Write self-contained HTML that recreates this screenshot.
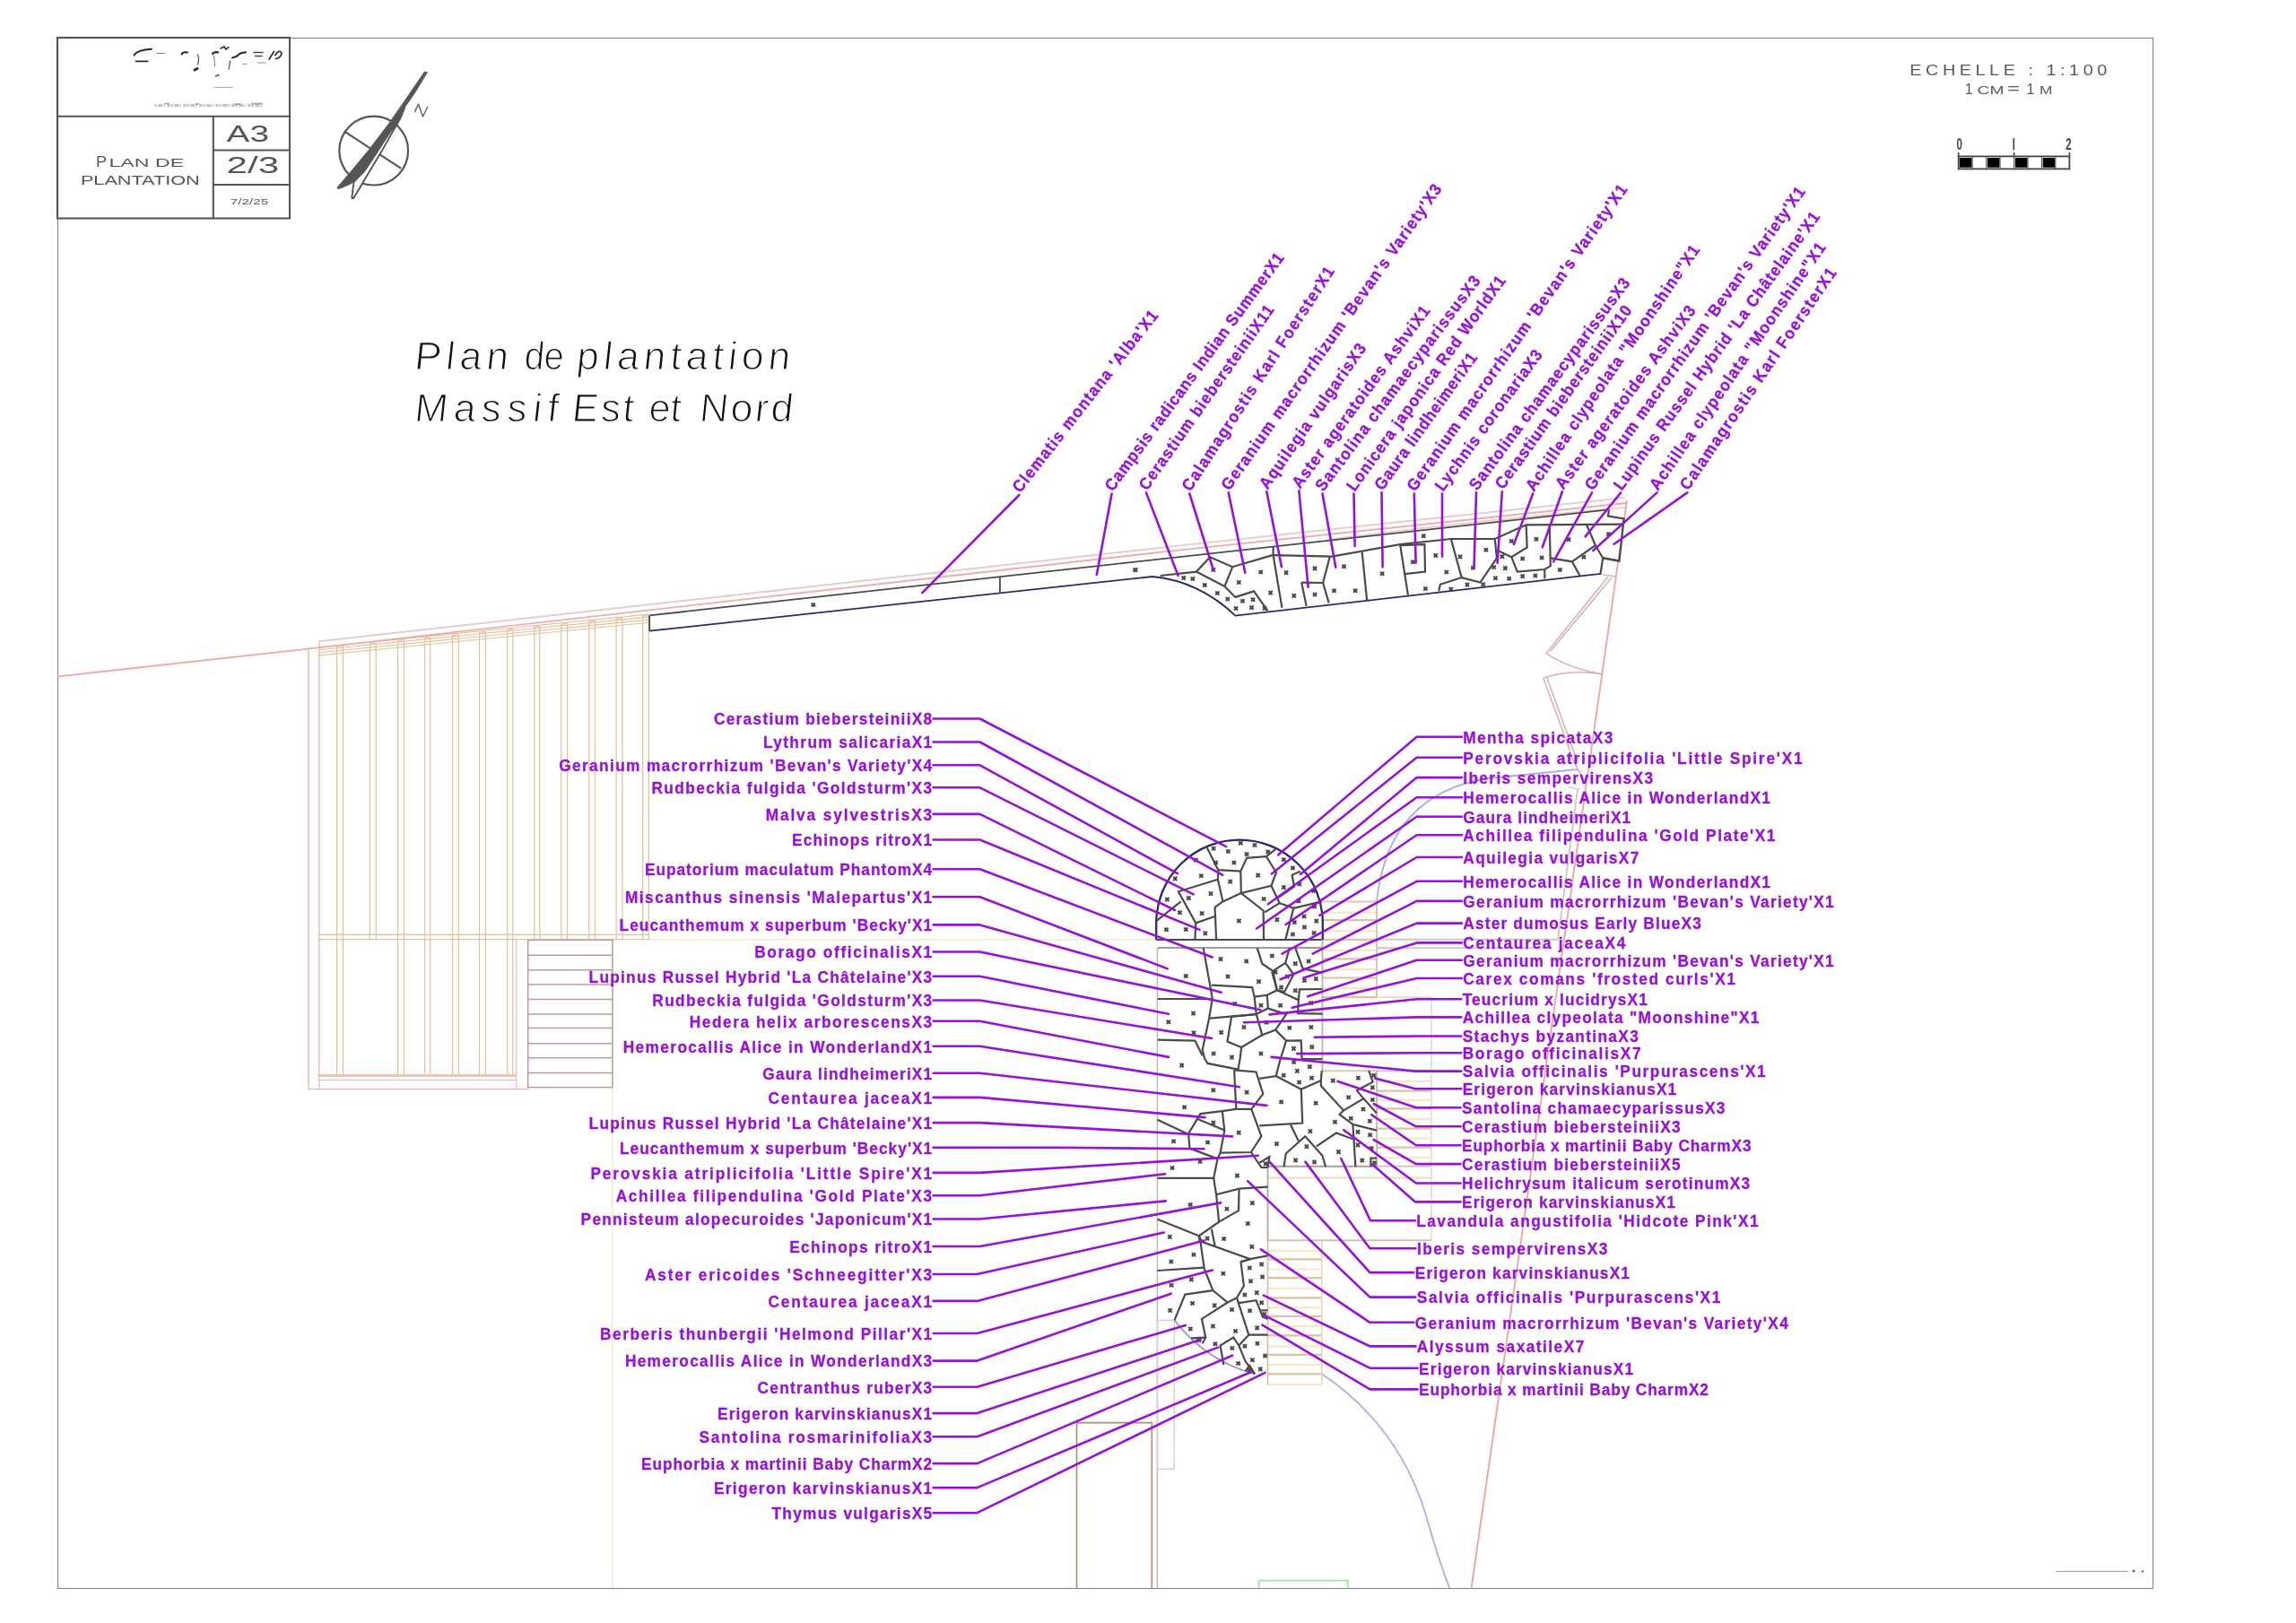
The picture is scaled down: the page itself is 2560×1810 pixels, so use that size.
<!DOCTYPE html>
<html><head><meta charset="utf-8"><title>Plan de plantation</title>
<style>
html,body{margin:0;padding:0;background:#fff;}
body{width:2560px;height:1810px;overflow:hidden;font-family:"Liberation Sans",sans-serif;}
svg{display:block;will-change:transform;opacity:0.9999}
.lb{font-family:"Liberation Sans",sans-serif;font-weight:bold;font-size:18.6px;fill:#9612D5;stroke:#9612D5;stroke-width:0.3px}
.bg{font-family:"Liberation Sans",sans-serif;fill:#555}
.hw{font-family:"Liberation Sans",sans-serif;font-style:italic;fill:#111;stroke:#fff;stroke-width:1.25px;paint-order:fill stroke}
</style></head><body>
<svg width="2560" height="1810" viewBox="0 0 2560 1810">
<rect x="0" y="0" width="2560" height="1810" fill="#fff"/>
<rect x="64.5" y="42.5" width="2336" height="1729" fill="none" stroke="#8a8a8a" stroke-width="1.2"/>
<line x1="682.7" y1="1048.0" x2="682.7" y2="1771.0" stroke="#f3ecd8" stroke-width="2" />
<line x1="724.0" y1="1048.0" x2="1290.0" y2="1048.0" stroke="#f6efdc" stroke-width="2" />
<polyline points="344.0,723.5 344.0,1214.6 588.6,1214.6 588.6,1048.4" fill="none" stroke="#e6b4ae" stroke-width="1.3" />
<polyline points="355.8,715.2 355.8,1214.6" fill="none" stroke="#e2bcb4" stroke-width="1.3" />
<line x1="355.8" y1="721.7" x2="723.3" y2="685.1" stroke="#e2c09c" stroke-width="1.1" />
<line x1="355.8" y1="724.7" x2="723.3" y2="688.1" stroke="#e2c09c" stroke-width="1.1" />
<line x1="355.8" y1="727.7" x2="723.3" y2="691.1" stroke="#e2c09c" stroke-width="1.1" />
<line x1="355.8" y1="730.9" x2="723.3" y2="694.3" stroke="#e2c09c" stroke-width="1.1" />
<line x1="375.6" y1="721.1" x2="375.6" y2="1198.6" stroke="#e2c09c" stroke-width="1.2" />
<line x1="382.4" y1="720.5" x2="382.4" y2="1198.6" stroke="#e2c09c" stroke-width="1.2" />
<line x1="375.6" y1="721.1" x2="382.4" y2="720.5" stroke="#e2c09c" stroke-width="1.2" />
<line x1="412.4" y1="717.5" x2="412.4" y2="1047.6" stroke="#e2c09c" stroke-width="1.2" />
<line x1="419.2" y1="716.8" x2="419.2" y2="1047.6" stroke="#e2c09c" stroke-width="1.2" />
<line x1="412.4" y1="717.5" x2="419.2" y2="716.8" stroke="#e2c09c" stroke-width="1.2" />
<line x1="443.6" y1="714.4" x2="443.6" y2="1198.6" stroke="#e2c09c" stroke-width="1.2" />
<line x1="450.5" y1="713.7" x2="450.5" y2="1198.6" stroke="#e2c09c" stroke-width="1.2" />
<line x1="443.6" y1="714.4" x2="450.5" y2="713.7" stroke="#e2c09c" stroke-width="1.2" />
<line x1="473.7" y1="711.4" x2="473.7" y2="1198.6" stroke="#e2c09c" stroke-width="1.2" />
<line x1="479.7" y1="710.8" x2="479.7" y2="1198.6" stroke="#e2c09c" stroke-width="1.2" />
<line x1="473.7" y1="711.4" x2="479.7" y2="710.8" stroke="#e2c09c" stroke-width="1.2" />
<line x1="504.5" y1="708.3" x2="504.5" y2="1198.6" stroke="#e2c09c" stroke-width="1.2" />
<line x1="511.3" y1="707.6" x2="511.3" y2="1198.6" stroke="#e2c09c" stroke-width="1.2" />
<line x1="504.5" y1="708.3" x2="511.3" y2="707.6" stroke="#e2c09c" stroke-width="1.2" />
<line x1="534.5" y1="705.3" x2="534.5" y2="1198.6" stroke="#e2c09c" stroke-width="1.2" />
<line x1="541.3" y1="704.6" x2="541.3" y2="1198.6" stroke="#e2c09c" stroke-width="1.2" />
<line x1="534.5" y1="705.3" x2="541.3" y2="704.6" stroke="#e2c09c" stroke-width="1.2" />
<line x1="565.8" y1="702.2" x2="565.8" y2="1198.6" stroke="#e2c09c" stroke-width="1.2" />
<line x1="571.8" y1="701.6" x2="571.8" y2="1198.6" stroke="#e2c09c" stroke-width="1.2" />
<line x1="565.8" y1="702.2" x2="571.8" y2="701.6" stroke="#e2c09c" stroke-width="1.2" />
<line x1="595.8" y1="699.2" x2="595.8" y2="1047.6" stroke="#e2c09c" stroke-width="1.2" />
<line x1="601.8" y1="698.6" x2="601.8" y2="1047.6" stroke="#e2c09c" stroke-width="1.2" />
<line x1="595.8" y1="699.2" x2="601.8" y2="698.6" stroke="#e2c09c" stroke-width="1.2" />
<line x1="625.8" y1="696.2" x2="625.8" y2="1047.6" stroke="#e2c09c" stroke-width="1.2" />
<line x1="632.6" y1="695.5" x2="632.6" y2="1047.6" stroke="#e2c09c" stroke-width="1.2" />
<line x1="625.8" y1="696.2" x2="632.6" y2="695.5" stroke="#e2c09c" stroke-width="1.2" />
<line x1="656.7" y1="693.1" x2="656.7" y2="1047.6" stroke="#e2c09c" stroke-width="1.2" />
<line x1="663.5" y1="692.5" x2="663.5" y2="1047.6" stroke="#e2c09c" stroke-width="1.2" />
<line x1="656.7" y1="693.1" x2="663.5" y2="692.5" stroke="#e2c09c" stroke-width="1.2" />
<line x1="687.1" y1="690.1" x2="687.1" y2="1047.6" stroke="#e2c09c" stroke-width="1.2" />
<line x1="693.9" y1="689.4" x2="693.9" y2="1047.6" stroke="#e2c09c" stroke-width="1.2" />
<line x1="687.1" y1="690.1" x2="693.9" y2="689.4" stroke="#e2c09c" stroke-width="1.2" />
<line x1="716.7" y1="687.2" x2="716.7" y2="1047.6" stroke="#e2c09c" stroke-width="1.2" />
<line x1="723.3" y1="686.5" x2="723.3" y2="1047.6" stroke="#e2c09c" stroke-width="1.2" />
<line x1="716.7" y1="687.2" x2="723.3" y2="686.5" stroke="#e2c09c" stroke-width="1.2" />
<line x1="355.8" y1="1042.4" x2="723.3" y2="1042.4" stroke="#e2c09c" stroke-width="1.2" />
<line x1="355.8" y1="1047.6" x2="723.3" y2="1047.6" stroke="#e2c09c" stroke-width="1.2" />
<line x1="355.8" y1="1199.6" x2="575.8" y2="1199.6" stroke="#efc6b0" stroke-width="3" />
<line x1="355.8" y1="1204.5" x2="575.8" y2="1204.5" stroke="#e6b4ae" stroke-width="1.1" />
<line x1="575.8" y1="1048.0" x2="575.8" y2="1214.6" stroke="#e6b4ae" stroke-width="1.1" />
<rect x="588.6" y="1048.4" width="94.4" height="164.2" fill="none" stroke="#c09a9a" stroke-width="1.4"/>
<line x1="588.6" y1="1065.3" x2="683.0" y2="1065.3" stroke="#c09a9a" stroke-width="1.5" />
<line x1="588.6" y1="1081.7" x2="683.0" y2="1081.7" stroke="#c09a9a" stroke-width="1.5" />
<line x1="588.6" y1="1098.1" x2="683.0" y2="1098.1" stroke="#c09a9a" stroke-width="1.5" />
<line x1="588.6" y1="1114.5" x2="683.0" y2="1114.5" stroke="#c09a9a" stroke-width="1.5" />
<line x1="588.6" y1="1130.9" x2="683.0" y2="1130.9" stroke="#c09a9a" stroke-width="1.5" />
<line x1="588.6" y1="1146.5" x2="683.0" y2="1146.5" stroke="#c09a9a" stroke-width="1.5" />
<line x1="588.6" y1="1163.8" x2="683.0" y2="1163.8" stroke="#c09a9a" stroke-width="1.5" />
<line x1="588.6" y1="1179.8" x2="683.0" y2="1179.8" stroke="#c09a9a" stroke-width="1.5" />
<line x1="588.6" y1="1196.6" x2="683.0" y2="1196.6" stroke="#c09a9a" stroke-width="1.5" />
<path d="M64 754.5 L330 725.1 L1300 615.1 Q1600 583 1813 561" fill="none" stroke="#f0acac" stroke-width="1.9"/>
<path d="M355.8 715.2 L1300 610.1 Q1600 577 1812 555" fill="none" stroke="#e6cccc" stroke-width="1.9"/>
<path d="M1480 602 Q1650 580 1812 566" fill="none" stroke="#f0c8c8" stroke-width="1.6"/>
<line x1="1814.0" y1="558.0" x2="1640.5" y2="1771.5" stroke="#eaa4a4" stroke-width="1.8" />
<path d="M1793 643 L1724 728.6 Q1748 745 1786 751.8" fill="none" stroke="#d9b4b4" stroke-width="1.6"/>
<path d="M1796.5 644.5 L1728.5 726.5" fill="none" stroke="#d9b4b4" stroke-width="1.6"/>
<path d="M1787 641 L1802 643" fill="none" stroke="#d9b4b4" stroke-width="1.6"/>
<path d="M1786 751.8 Q1748 746 1720.9 756.3 L1755 850 L1765 868" fill="none" stroke="#d9b4b4" stroke-width="1.6"/>
<path d="M1724.5 755 L1759 850" fill="none" stroke="#d9b4b4" stroke-width="1.6"/>
<path d="M1535 1047.8 L1737 1047.8 L1759 880" fill="none" stroke="#cdc9c5" stroke-width="1.9"/>
<path d="M1535 1057.3 L1730 1057.3" fill="none" stroke="#cdc9c5" stroke-width="1.9"/>
<path d="M1752 858 L1765 860 M1748 878 L1762 880" fill="none" stroke="#cdc9c5" stroke-width="1.2"/>
<path d="M1759 858 L1660 868 Q1548 885 1535 1005" fill="none" stroke="#aab0e2" stroke-width="1.8"/>
<path d="M1473.7 1532.3 Q1560 1590 1590 1690 Q1604 1740 1616.2 1771" fill="none" stroke="#aab0e2" stroke-width="1.8"/>
<line x1="1474.7" y1="1005.5" x2="1535.0" y2="1005.5" stroke="#d9c8b6" stroke-width="2.2" />
<line x1="1474.7" y1="1017.6" x2="1535.0" y2="1017.6" stroke="#f5e8c2" stroke-width="2.2" />
<line x1="1474.7" y1="1026.2" x2="1535.0" y2="1026.2" stroke="#dcc29e" stroke-width="2.2" />
<line x1="1474.7" y1="1038.3" x2="1535.0" y2="1038.3" stroke="#f5e8c2" stroke-width="2.2" />
<line x1="1474.7" y1="1047.8" x2="1535.0" y2="1047.8" stroke="#dcc29e" stroke-width="2.2" />
<line x1="1474.7" y1="1059.9" x2="1535.0" y2="1059.9" stroke="#f5e8c2" stroke-width="2.2" />
<line x1="1474.7" y1="1069.4" x2="1535.0" y2="1069.4" stroke="#dcc29e" stroke-width="2.2" />
<line x1="1474.7" y1="1081.0" x2="1535.0" y2="1081.0" stroke="#f5e8c2" stroke-width="2.2" />
<line x1="1474.7" y1="1090.5" x2="1535.0" y2="1090.5" stroke="#dcc29e" stroke-width="2.2" />
<line x1="1474.7" y1="1102.2" x2="1535.0" y2="1102.2" stroke="#f5e8c2" stroke-width="2.2" />
<line x1="1474.7" y1="1112.1" x2="1535.0" y2="1112.1" stroke="#dcc29e" stroke-width="2.2" />
<line x1="1535.0" y1="1005.5" x2="1535.0" y2="1112.1" stroke="#cfc4b8" stroke-width="1.8" />
<polyline points="1535.0,1112.1 1595.9,1112.1 1595.9,1383.3" fill="none" stroke="#e6d8d4" stroke-width="1.6" />
<line x1="1473.9" y1="1194.2" x2="1595.9" y2="1194.2" stroke="#d4c8bc" stroke-width="1.9" />
<line x1="1535.5" y1="1205.8" x2="1595.9" y2="1205.8" stroke="#f5e8c2" stroke-width="2.2" />
<line x1="1535.5" y1="1216.6" x2="1595.9" y2="1216.6" stroke="#dcc29e" stroke-width="2.2" />
<line x1="1535.5" y1="1226.8" x2="1595.9" y2="1226.8" stroke="#f5e8c2" stroke-width="2.2" />
<line x1="1535.5" y1="1236.3" x2="1595.9" y2="1236.3" stroke="#dcc29e" stroke-width="2.2" />
<line x1="1535.5" y1="1247.8" x2="1595.9" y2="1247.8" stroke="#f5e8c2" stroke-width="2.2" />
<line x1="1535.5" y1="1258.6" x2="1595.9" y2="1258.6" stroke="#dcc29e" stroke-width="2.2" />
<line x1="1535.5" y1="1269.5" x2="1595.9" y2="1269.5" stroke="#f5e8c2" stroke-width="2.2" />
<line x1="1535.5" y1="1279.6" x2="1595.9" y2="1279.6" stroke="#dcc29e" stroke-width="2.2" />
<line x1="1535.5" y1="1291.2" x2="1595.9" y2="1291.2" stroke="#f5e8c2" stroke-width="2.2" />
<path d="M1535 1300.6 H1595.9 M1413.6 1383.3 H1595.9" fill="none" stroke="#cfc2b4" stroke-width="1.9"/>
<line x1="1413.6" y1="1313.5" x2="1595.9" y2="1313.5" stroke="#e8dcc8" stroke-width="2" />
<line x1="1413.5" y1="1394.8" x2="1473.7" y2="1394.8" stroke="#f5e8c2" stroke-width="2.2" />
<line x1="1413.5" y1="1404.4" x2="1473.7" y2="1404.4" stroke="#dcc29e" stroke-width="2.2" />
<line x1="1413.5" y1="1415.5" x2="1473.7" y2="1415.5" stroke="#f5e8c2" stroke-width="2.2" />
<line x1="1413.5" y1="1425.1" x2="1473.7" y2="1425.1" stroke="#dcc29e" stroke-width="2.2" />
<line x1="1413.5" y1="1436.9" x2="1473.7" y2="1436.9" stroke="#f5e8c2" stroke-width="2.2" />
<line x1="1413.5" y1="1447.3" x2="1473.7" y2="1447.3" stroke="#dcc29e" stroke-width="2.2" />
<line x1="1413.5" y1="1458.4" x2="1473.7" y2="1458.4" stroke="#f5e8c2" stroke-width="2.2" />
<line x1="1413.5" y1="1468.0" x2="1473.7" y2="1468.0" stroke="#dcc29e" stroke-width="2.2" />
<line x1="1413.5" y1="1479.1" x2="1473.7" y2="1479.1" stroke="#f5e8c2" stroke-width="2.2" />
<line x1="1413.5" y1="1489.4" x2="1473.7" y2="1489.4" stroke="#dcc29e" stroke-width="2.2" />
<line x1="1413.5" y1="1501.3" x2="1473.7" y2="1501.3" stroke="#f5e8c2" stroke-width="2.2" />
<line x1="1413.5" y1="1510.9" x2="1473.7" y2="1510.9" stroke="#dcc29e" stroke-width="2.2" />
<line x1="1413.5" y1="1522.0" x2="1473.7" y2="1522.0" stroke="#f5e8c2" stroke-width="2.2" />
<line x1="1413.5" y1="1532.3" x2="1473.7" y2="1532.3" stroke="#dcc29e" stroke-width="2.2" />
<line x1="1413.5" y1="1544.1" x2="1473.7" y2="1544.1" stroke="#f5e8c2" stroke-width="2.2" />
<line x1="1413.5" y1="1383.0" x2="1413.5" y2="1544.1" stroke="#d2bea4" stroke-width="1.6" />
<line x1="1473.7" y1="1383.0" x2="1473.7" y2="1544.1" stroke="#e6d4b4" stroke-width="1.6" />
<polyline points="1200.5,1771.0 1200.5,1586.6 1284.3,1586.6 1284.3,1771.0" fill="none" stroke="#b48a6e" stroke-width="1.6" />
<line x1="1290.4" y1="1057.0" x2="1290.4" y2="1771.0" stroke="#c8b4a8" stroke-width="1.5" />
<rect x="1290.4" y="1472.3" width="18.8" height="166" fill="none" stroke="#e0cccc" stroke-width="1.4"/>
<path d="M1403.6 1771 L1403.6 1762.6 L1502.8 1762.6 L1502.8 1771" fill="none" stroke="#a6e6a6" stroke-width="1.9"/>
<rect x="64" y="42" width="259" height="201.5" fill="none" stroke="#555" stroke-width="2.1"/>
<line x1="64.0" y1="129.8" x2="323.0" y2="129.8" stroke="#555" stroke-width="2.1" />
<line x1="237.8" y1="129.8" x2="237.8" y2="243.5" stroke="#555" stroke-width="2.1" />
<line x1="237.8" y1="167.5" x2="323.0" y2="167.5" stroke="#555" stroke-width="2.1" />
<line x1="237.8" y1="206.0" x2="323.0" y2="206.0" stroke="#555" stroke-width="2.1" />
<text class="bg" x="252.6" y="157.7" font-size="25" textLength="47.4" lengthAdjust="spacingAndGlyphs">A3</text>
<text class="bg" x="252.6" y="192.6" font-size="25" textLength="58.6" lengthAdjust="spacingAndGlyphs">2/3</text>
<text class="bg" x="256.8" y="227.5" font-size="8.5" textLength="42.4" lengthAdjust="spacingAndGlyphs">7/2/25</text>
<text class="bg" x="106.9" y="185.6" font-size="16.5" textLength="12" lengthAdjust="spacingAndGlyphs">P</text>
<text class="bg" x="121.5" y="185.6" font-size="13" textLength="83.6" lengthAdjust="spacingAndGlyphs">LAN DE</text>
<text class="bg" x="89.9" y="206" font-size="14.5" textLength="132.8" lengthAdjust="spacingAndGlyphs">PLANTATION</text>
<defs><filter id="bl" x="-5%" y="-20%" width="110%" height="140%"><feGaussianBlur stdDeviation="0.55"/></filter></defs>
<g filter="url(#bl)" fill="none" stroke="#2a2a2a" stroke-linecap="round">
<path d="M149.5 61.5 Q153 55.5 169 54.8" stroke-width="2"/>
<path d="M151.5 68.3 H164.5" stroke-width="1.8"/>
<path d="M175 59.5 H184" stroke-width="1" opacity="0.6"/>
<path d="M202.5 60.5 Q204 57.5 209 58.6" stroke-width="2"/>
<path d="M220.5 61 Q222.5 66 220.5 72" stroke-width="1.3" opacity="0.8"/>
<path d="M217 78 L220 76.5" stroke-width="3"/>
<path d="M237 60 Q239 57.5 243 58.4" stroke-width="2.2"/>
<path d="M246 54 L250 52 L252 55 L255 52.5" stroke-width="1.6"/>
<path d="M238.6 62 L239.6 74" stroke-width="1.2" opacity="0.55"/>
<path d="M256.5 68 L255.2 77" stroke-width="1.5" opacity="0.7"/>
<path d="M259 64.5 Q264 63.5 268 59.5 L274 58.2" stroke-width="2"/>
<path d="M283 58.5 H293 M284.5 62.5 H292" stroke-width="1.5" opacity="0.85"/>
<path d="M300 66 L305.5 57.5 M307 61.5 Q311 54.5 314 59 Q313.5 64.5 307.5 65.5" stroke-width="1.7"/>
<path d="M287 70 H296 M271 71.5 H275" stroke-width="1" opacity="0.5"/>
<path d="M240.5 85 L244 83.4" stroke-width="1.6" opacity="0.8"/>
<path d="M239 97.4 H259.5" stroke-width="0.9" stroke="#777" opacity="0.7"/>
<path d="M172.5 117.6 H294" stroke-width="3.4" stroke="#888" stroke-dasharray="2.2 1.6 5 1.2 1.4 2.4 3.2 1" stroke-linecap="butt" opacity="0.5"/>
<path d="M184 115.5 H188 M218 116 H222 M262 116 H268 M281 115.5 H292" stroke-width="1.6" stroke="#555" opacity="0.55"/>
</g>
<circle cx="416.7" cy="168.1" r="38.4" fill="none" stroke="#555" stroke-width="2.2"/>
<line x1="383.7" y1="146.4" x2="447.3" y2="187.8" stroke="#555" stroke-width="2.1" />
<path d="M451.2 119.8 446.8 131.1 425.6 168.6 408.3 197.2 400.9 210.0 394.0 221.3 392.3 220.8 393.3 212.0 394.7 202.6 406.3 190.8 418.7 172.3 429.5 155.6 440.8 138.8 450.2 122.1 Z" fill="#fff" stroke="#555" stroke-width="1.9" stroke-linejoin="round"/>
<path d="M473.4 79.9 453.2 109.4 433.4 138.0 411.3 167.1 389.6 193.2 375.8 209.2 377.0 210.8 382.7 208.8 392.5 204.3 397.5 200.1 406.3 189.8 418.2 171.5 429.0 154.8 440.4 138.0 450.2 121.3 458.6 109.4 464.5 100.6 476.5 80.6 Z" fill="#555" stroke="#555" stroke-width="0.8" stroke-linejoin="round"/>
<path d="M462.6 124.5 L466.6 116.2 L471.5 130 L476.6 119.5" fill="none" stroke="#666" stroke-width="1.5" stroke-linecap="round" stroke-linejoin="round"/>
<text class="bg" transform="translate(2129.3 83.9) scale(1.22 1)" font-size="16.3" textLength="180.3" lengthAdjust="spacing" style="fill:#5a5a5a">ECHELLE : 1:100</text>
<text class="bg" x="2190.7" y="104.7" font-size="16.3" textLength="9" lengthAdjust="spacingAndGlyphs" style="fill:#5a5a5a">1</text>
<text class="bg" x="2204.5" y="104.7" font-size="12.4" textLength="30" lengthAdjust="spacingAndGlyphs" style="fill:#5a5a5a">CM</text>
<text class="bg" x="2238" y="103.6" font-size="14" textLength="14" lengthAdjust="spacingAndGlyphs" style="fill:#5a5a5a">=</text>
<text class="bg" x="2259.5" y="104.7" font-size="16.3" textLength="9" lengthAdjust="spacingAndGlyphs" style="fill:#5a5a5a">1</text>
<text class="bg" x="2274" y="104.7" font-size="12.4" textLength="14.4" lengthAdjust="spacingAndGlyphs" style="fill:#5a5a5a">M</text>
<rect x="2183.7" y="174.4" width="123.7" height="14.0" fill="#fff" stroke="#444" stroke-width="1.8"/>
<rect x="2184.9" y="176.0" width="13.7" height="10.8" fill="#000"/>
<rect x="2215.8" y="176.0" width="13.7" height="10.8" fill="#000"/>
<rect x="2246.8" y="176.0" width="13.7" height="10.8" fill="#000"/>
<rect x="2277.7" y="176.0" width="13.7" height="10.8" fill="#000"/>
<line x1="2199.2" y1="174.4" x2="2199.2" y2="188.4" stroke="#555" stroke-width="1" />
<line x1="2214.6" y1="174.4" x2="2214.6" y2="188.4" stroke="#555" stroke-width="1" />
<line x1="2230.1" y1="174.4" x2="2230.1" y2="188.4" stroke="#555" stroke-width="1" />
<line x1="2245.6" y1="174.4" x2="2245.6" y2="188.4" stroke="#555" stroke-width="1" />
<line x1="2261.0" y1="174.4" x2="2261.0" y2="188.4" stroke="#555" stroke-width="1" />
<line x1="2276.5" y1="174.4" x2="2276.5" y2="188.4" stroke="#555" stroke-width="1" />
<line x1="2291.9" y1="174.4" x2="2291.9" y2="188.4" stroke="#555" stroke-width="1" />
<line x1="2183.7" y1="174.4" x2="2183.7" y2="169.9" stroke="#444" stroke-width="1.6" />
<line x1="2245.6" y1="174.4" x2="2245.6" y2="169.9" stroke="#444" stroke-width="1.6" />
<line x1="2307.4" y1="174.4" x2="2307.4" y2="169.9" stroke="#444" stroke-width="1.6" />
<text x="2184.8" y="167.3" font-size="18" font-weight="bold" fill="#444" text-anchor="middle" font-family="Liberation Sans" textLength="6.4" lengthAdjust="spacingAndGlyphs">0</text>
<text x="2306.4" y="167.3" font-size="18" font-weight="bold" fill="#444" text-anchor="middle" font-family="Liberation Sans" textLength="6.4" lengthAdjust="spacingAndGlyphs">2</text>
<line x1="2245.3" y1="154.2" x2="2245.3" y2="167.2" stroke="#444" stroke-width="1.7" />
<text class="hw" transform="translate(463.5 411.7) skewX(5)" font-size="44" textLength="104.5" lengthAdjust="spacing">Plan</text>
<text class="hw" transform="translate(585.8 411.7) skewX(5)" font-size="44" textLength="43.9" lengthAdjust="spacingAndGlyphs">de</text>
<text class="hw" transform="translate(644.3 411.7) skewX(5)" font-size="44" textLength="237.9" lengthAdjust="spacing">plantation</text>
<text class="hw" transform="translate(463.5 470.2) skewX(5)" font-size="44" textLength="160.3" lengthAdjust="spacing">Massif</text>
<text class="hw" transform="translate(639.1 470.2) skewX(5)" font-size="44" textLength="68.7" lengthAdjust="spacing">Est</text>
<text class="hw" transform="translate(724.8 470.2) skewX(5)" font-size="44" textLength="35.6" lengthAdjust="spacingAndGlyphs">et</text>
<text class="hw" transform="translate(781.2 470.2) skewX(5)" font-size="44" textLength="103.7" lengthAdjust="spacing">Nord</text>
<line x1="2292.0" y1="1752.4" x2="2373.0" y2="1752.4" stroke="#999" stroke-width="1" />
<circle cx="2379" cy="1752" r="1.6" fill="#777"/><circle cx="2389" cy="1752.4" r="1.1" fill="#555"/>
<line x1="724.1" y1="686.4" x2="1793.0" y2="568.4" stroke="#4a4a4a" stroke-width="1.8" />
<line x1="724.1" y1="686.4" x2="724.1" y2="703.7" stroke="#4a4a4a" stroke-width="1.8" />
<path d="M724.1 703.7 L1284.9 643 Q1337 648 1377.4 686.6 L1785.5 639.8" fill="none" stroke="#2a2a6a" stroke-width="1.8"/>
<line x1="1114.9" y1="644.0" x2="1114.9" y2="660.8" stroke="#4a4a4a" stroke-width="1.8" />
<polyline points="1794.0,568.4 1793.0,575.5 1810.5,578.5 1805.5,625.6 1786.5,622.0" fill="none" stroke="#4a4a4a" stroke-width="2.2" />
<polyline points="1293.6,642.0 1333.9,637.6 1349.1,621.3 1374.2,632.2 1418.8,619.1" fill="none" stroke="#4a4a4a" stroke-width="2.2" />
<polyline points="1333.9,637.6 1365.5,653.9 1374.2,632.2" fill="none" stroke="#4a4a4a" stroke-width="2.2" />
<polyline points="1365.5,653.9 1377.4,665.9 1398.1,659.4 1413.4,681.1" fill="none" stroke="#4a4a4a" stroke-width="2.2" />
<polyline points="1419.6,609.3 1419.6,619.1 1429.4,677.9" fill="none" stroke="#4a4a4a" stroke-width="2.2" />
<polyline points="1419.6,619.1 1484.9,620.6 1561.1,607.1 1617.8,601.0 1666.8,601.0 1701.6,585.3 1810.5,584.7" fill="none" stroke="#4a4a4a" stroke-width="2.2" />
<polyline points="1451.2,649.6 1475.1,650.0 1482.8,620.6" fill="none" stroke="#4a4a4a" stroke-width="2.2" />
<polyline points="1451.2,649.6 1456.6,675.7" fill="none" stroke="#4a4a4a" stroke-width="2.2" />
<polyline points="1475.1,650.0 1481.7,672.4" fill="none" stroke="#4a4a4a" stroke-width="2.2" />
<polyline points="1518.7,615.8 1524.1,669.2" fill="none" stroke="#4a4a4a" stroke-width="2.2" />
<polyline points="1561.1,607.1 1569.9,663.7" fill="none" stroke="#4a4a4a" stroke-width="2.2" />
<polyline points="1561.1,608.2 1588.4,607.1 1589.0,637.6 1566.6,640.2" fill="none" stroke="#4a4a4a" stroke-width="2.2" />
<polyline points="1617.8,601.0 1629.7,644.1 1605.8,651.8 1604.3,659.4" fill="none" stroke="#4a4a4a" stroke-width="2.2" />
<polyline points="1629.7,644.1 1650.4,649.6 1668.9,622.4 1666.8,601.0" fill="none" stroke="#4a4a4a" stroke-width="2.2" />
<polyline points="1668.9,613.6 1685.3,621.3 1702.7,610.4 1701.6,585.3" fill="none" stroke="#4a4a4a" stroke-width="2.2" />
<polyline points="1685.3,621.3 1691.8,637.6 1722.3,635.0 1728.8,631.1 1727.7,585.3" fill="none" stroke="#4a4a4a" stroke-width="2.2" />
<polyline points="1722.3,635.0 1722.3,645.2" fill="none" stroke="#4a4a4a" stroke-width="2.2" />
<polyline points="1728.8,622.4 1752.8,626.3 1761.5,642.0" fill="none" stroke="#4a4a4a" stroke-width="2.2" />
<polyline points="1752.8,626.3 1778.9,608.2 1769.1,585.3" fill="none" stroke="#4a4a4a" stroke-width="2.2" />
<polyline points="1778.9,608.2 1787.2,622.4 1784.4,640.4" fill="none" stroke="#4a4a4a" stroke-width="2.2" />
<polyline points="1787.2,622.4 1805.5,625.6" fill="none" stroke="#4a4a4a" stroke-width="2.2" />
<path d="M1263.9 633.4l4.1 4.1m0 -4.1l-4.1 4.1" stroke="#484848" stroke-width="2.1" fill="none"/>
<path d="M1317.7 642.5l4.1 4.1m0 -4.1l-4.1 4.1" stroke="#484848" stroke-width="2.1" fill="none"/>
<path d="M1327.9 643.4l4.1 4.1m0 -4.1l-4.1 4.1" stroke="#484848" stroke-width="2.1" fill="none"/>
<path d="M1341.2 650.4l4.1 4.1m0 -4.1l-4.1 4.1" stroke="#484848" stroke-width="2.1" fill="none"/>
<path d="M1355.3 659.5l4.1 4.1m0 -4.1l-4.1 4.1" stroke="#484848" stroke-width="2.1" fill="none"/>
<path d="M1366.7 666.0l4.1 4.1m0 -4.1l-4.1 4.1" stroke="#484848" stroke-width="2.1" fill="none"/>
<path d="M1376.0 676.5l4.1 4.1m0 -4.1l-4.1 4.1" stroke="#484848" stroke-width="2.1" fill="none"/>
<path d="M1383.4 668.2l4.1 4.1m0 -4.1l-4.1 4.1" stroke="#484848" stroke-width="2.1" fill="none"/>
<path d="M1395.0 666.7l4.1 4.1m0 -4.1l-4.1 4.1" stroke="#484848" stroke-width="2.1" fill="none"/>
<path d="M1393.5 675.6l4.1 4.1m0 -4.1l-4.1 4.1" stroke="#484848" stroke-width="2.1" fill="none"/>
<path d="M1408.0 676.3l4.1 4.1m0 -4.1l-4.1 4.1" stroke="#484848" stroke-width="2.1" fill="none"/>
<path d="M1350.8 633.4l4.1 4.1m0 -4.1l-4.1 4.1" stroke="#484848" stroke-width="2.1" fill="none"/>
<path d="M1379.3 647.5l4.1 4.1m0 -4.1l-4.1 4.1" stroke="#484848" stroke-width="2.1" fill="none"/>
<path d="M1403.7 636.0l4.1 4.1m0 -4.1l-4.1 4.1" stroke="#484848" stroke-width="2.1" fill="none"/>
<path d="M1414.6 659.1l4.1 4.1m0 -4.1l-4.1 4.1" stroke="#484848" stroke-width="2.1" fill="none"/>
<path d="M1432.0 636.6l4.1 4.1m0 -4.1l-4.1 4.1" stroke="#484848" stroke-width="2.1" fill="none"/>
<path d="M1440.7 662.3l4.1 4.1m0 -4.1l-4.1 4.1" stroke="#484848" stroke-width="2.1" fill="none"/>
<path d="M1464.0 631.8l4.1 4.1m0 -4.1l-4.1 4.1" stroke="#484848" stroke-width="2.1" fill="none"/>
<path d="M1464.0 661.0l4.1 4.1m0 -4.1l-4.1 4.1" stroke="#484848" stroke-width="2.1" fill="none"/>
<path d="M1496.4 629.7l4.1 4.1m0 -4.1l-4.1 4.1" stroke="#484848" stroke-width="2.1" fill="none"/>
<path d="M1485.5 656.7l4.1 4.1m0 -4.1l-4.1 4.1" stroke="#484848" stroke-width="2.1" fill="none"/>
<path d="M1509.0 656.7l4.1 4.1m0 -4.1l-4.1 4.1" stroke="#484848" stroke-width="2.1" fill="none"/>
<path d="M1539.1 637.7l4.1 4.1m0 -4.1l-4.1 4.1" stroke="#484848" stroke-width="2.1" fill="none"/>
<path d="M1585.2 595.7l4.1 4.1m0 -4.1l-4.1 4.1" stroke="#484848" stroke-width="2.1" fill="none"/>
<path d="M1573.3 624.7l4.1 4.1m0 -4.1l-4.1 4.1" stroke="#484848" stroke-width="2.1" fill="none"/>
<path d="M1598.7 617.5l4.1 4.1m0 -4.1l-4.1 4.1" stroke="#484848" stroke-width="2.1" fill="none"/>
<path d="M1610.7 636.0l4.1 4.1m0 -4.1l-4.1 4.1" stroke="#484848" stroke-width="2.1" fill="none"/>
<path d="M1587.4 654.5l4.1 4.1m0 -4.1l-4.1 4.1" stroke="#484848" stroke-width="2.1" fill="none"/>
<path d="M1615.7 655.1l4.1 4.1m0 -4.1l-4.1 4.1" stroke="#484848" stroke-width="2.1" fill="none"/>
<path d="M1633.8 650.1l4.1 4.1m0 -4.1l-4.1 4.1" stroke="#484848" stroke-width="2.1" fill="none"/>
<path d="M1651.7 649.7l4.1 4.1m0 -4.1l-4.1 4.1" stroke="#484848" stroke-width="2.1" fill="none"/>
<path d="M1626.0 618.8l4.1 4.1m0 -4.1l-4.1 4.1" stroke="#484848" stroke-width="2.1" fill="none"/>
<path d="M1654.9 611.2l4.1 4.1m0 -4.1l-4.1 4.1" stroke="#484848" stroke-width="2.1" fill="none"/>
<path d="M1640.3 631.2l4.1 4.1m0 -4.1l-4.1 4.1" stroke="#484848" stroke-width="2.1" fill="none"/>
<path d="M1663.6 630.5l4.1 4.1m0 -4.1l-4.1 4.1" stroke="#484848" stroke-width="2.1" fill="none"/>
<path d="M1676.3 631.6l4.1 4.1m0 -4.1l-4.1 4.1" stroke="#484848" stroke-width="2.1" fill="none"/>
<path d="M1665.4 642.7l4.1 4.1m0 -4.1l-4.1 4.1" stroke="#484848" stroke-width="2.1" fill="none"/>
<path d="M1680.6 643.2l4.1 4.1m0 -4.1l-4.1 4.1" stroke="#484848" stroke-width="2.1" fill="none"/>
<path d="M1695.6 640.6l4.1 4.1m0 -4.1l-4.1 4.1" stroke="#484848" stroke-width="2.1" fill="none"/>
<path d="M1709.8 639.9l4.1 4.1m0 -4.1l-4.1 4.1" stroke="#484848" stroke-width="2.1" fill="none"/>
<path d="M1672.8 618.6l4.1 4.1m0 -4.1l-4.1 4.1" stroke="#484848" stroke-width="2.1" fill="none"/>
<path d="M1683.2 601.4l4.1 4.1m0 -4.1l-4.1 4.1" stroke="#484848" stroke-width="2.1" fill="none"/>
<path d="M1695.6 621.0l4.1 4.1m0 -4.1l-4.1 4.1" stroke="#484848" stroke-width="2.1" fill="none"/>
<path d="M1710.9 599.2l4.1 4.1m0 -4.1l-4.1 4.1" stroke="#484848" stroke-width="2.1" fill="none"/>
<path d="M1717.0 619.9l4.1 4.1m0 -4.1l-4.1 4.1" stroke="#484848" stroke-width="2.1" fill="none"/>
<path d="M1737.2 633.4l4.1 4.1m0 -4.1l-4.1 4.1" stroke="#484848" stroke-width="2.1" fill="none"/>
<path d="M1747.0 599.6l4.1 4.1m0 -4.1l-4.1 4.1" stroke="#484848" stroke-width="2.1" fill="none"/>
<path d="M1763.8 619.2l4.1 4.1m0 -4.1l-4.1 4.1" stroke="#484848" stroke-width="2.1" fill="none"/>
<path d="M1791.5 593.7l4.1 4.1m0 -4.1l-4.1 4.1" stroke="#484848" stroke-width="2.1" fill="none"/>
<path d="M904.7 672.4l4.1 4.1m0 -4.1l-4.1 4.1" stroke="#484848" stroke-width="2.1" fill="none"/>
<path d="M1263.7 633.7l4.1 4.1m0 -4.1l-4.1 4.1" stroke="#484848" stroke-width="2.1" fill="none"/>
<path d="M1289.2 1047.9 L1289.2 1029.4 A92.8 92.8 0 0 1 1474.8 1029.4 L1474.8 1047.9" fill="none" stroke="#2a2a6a" stroke-width="2.3"/>
<line x1="1289.2" y1="1047.9" x2="1474.8" y2="1047.9" stroke="#4a4a4a" stroke-width="2" />
<line x1="1290.8" y1="1057.1" x2="1474.4" y2="1057.1" stroke="#9c9c9c" stroke-width="2" />
<line x1="1474.4" y1="1047.9" x2="1474.4" y2="1194.4" stroke="#bdb2a4" stroke-width="1.8" />
<line x1="1535.1" y1="1194.4" x2="1535.1" y2="1301.0" stroke="#c2b4a0" stroke-width="1.7" />
<line x1="1413.5" y1="1300.8" x2="1535.3" y2="1300.8" stroke="#aaa096" stroke-width="2" />
<line x1="1413.5" y1="1301.0" x2="1413.5" y2="1383.0" stroke="#b4a8a0" stroke-width="1.8" />
<path d="M1309.5 1472.4 Q1345 1518 1399 1532.3" fill="none" stroke="#9a9cc8" stroke-width="1.8"/>
<polyline points="1345.4,944.4 1358.3,970.2 1383.3,971.7 1390.1,956.9 1411.9,955.1 1423.0,973.0 1417.4,987.8 1383.8,996.1 1383.3,971.7" fill="none" stroke="#4a4a4a" stroke-width="2.2" />
<polyline points="1411.9,955.1 1422.1,947.1" fill="none" stroke="#4a4a4a" stroke-width="2.2" />
<polyline points="1358.3,970.2 1357.9,980.8 1363.5,1005.4" fill="none" stroke="#4a4a4a" stroke-width="2.2" />
<polyline points="1357.9,980.8 1313.9,994.3 1333.3,1029.4 1354.6,1022.0" fill="none" stroke="#4a4a4a" stroke-width="2.2" />
<polyline points="1316.7,1005.4 1289.9,1026.6" fill="none" stroke="#4a4a4a" stroke-width="2.2" />
<polyline points="1333.3,1029.4 1332.4,1047.9" fill="none" stroke="#4a4a4a" stroke-width="2.2" />
<polyline points="1363.5,1005.4 1383.8,996.1" fill="none" stroke="#4a4a4a" stroke-width="2.2" />
<polyline points="1363.5,1005.4 1354.6,1011.8 1356.1,1047.9" fill="none" stroke="#4a4a4a" stroke-width="2.2" />
<polyline points="1383.8,996.1 1408.6,1015.5 1409.1,1047.9" fill="none" stroke="#4a4a4a" stroke-width="2.2" />
<polyline points="1417.4,987.8 1426.7,1007.2 1410.1,1017.4" fill="none" stroke="#4a4a4a" stroke-width="2.2" />
<polyline points="1426.7,1007.2 1442.4,1012.8 1473.8,1005.4" fill="none" stroke="#4a4a4a" stroke-width="2.2" />
<polyline points="1442.4,1012.8 1433.2,1047.9" fill="none" stroke="#4a4a4a" stroke-width="2.2" />
<polyline points="1449.8,971.7 1440.6,975.8 1443.0,988.7 1423.0,1002.6" fill="none" stroke="#4a4a4a" stroke-width="2.2" />
<polyline points="1341.7,1057.1 1351.8,1113.5 1348.1,1135.7 1340.7,1170.8 1343.0,1180.0" fill="none" stroke="#4a4a4a" stroke-width="2.2" />
<polyline points="1350.9,1098.7 1396.2,1101.1 1398.6,1111.6 1400.8,1131.1 1349.1,1135.7" fill="none" stroke="#4a4a4a" stroke-width="2.2" />
<polyline points="1398.6,1111.6 1412.8,1109.8 1423.9,1104.3 1418.4,1084.8 1422.1,1082.1" fill="none" stroke="#4a4a4a" stroke-width="2.2" />
<polyline points="1401.7,1057.1 1407.3,1074.7 1419.3,1083.0 1433.2,1073.8 1437.8,1057.1" fill="none" stroke="#4a4a4a" stroke-width="2.2" />
<polyline points="1433.2,1073.8 1442.4,1086.7 1432.2,1106.1 1423.9,1104.3" fill="none" stroke="#4a4a4a" stroke-width="2.2" />
<polyline points="1419.3,1083.0 1423.9,1104.3" fill="none" stroke="#4a4a4a" stroke-width="2.2" />
<polyline points="1444.3,1057.1 1452.6,1080.2 1474.4,1084.8" fill="none" stroke="#4a4a4a" stroke-width="2.2" />
<polyline points="1423.9,1104.3 1447.9,1115.3 1448.9,1103.3 1474.4,1103.0" fill="none" stroke="#4a4a4a" stroke-width="2.2" />
<polyline points="1447.9,1115.3 1447.0,1130.1 1474.4,1130.7" fill="none" stroke="#4a4a4a" stroke-width="2.2" />
<polyline points="1412.8,1109.8 1413.8,1124.6 1400.8,1131.1 1407.3,1154.2 1422.1,1148.6 1434.1,1131.1 1413.8,1124.6" fill="none" stroke="#4a4a4a" stroke-width="2.2" />
<polyline points="1373.1,1133.8 1368.5,1161.6 1384.2,1168.0 1407.3,1154.2" fill="none" stroke="#4a4a4a" stroke-width="2.2" />
<polyline points="1373.1,1133.8 1400.8,1131.1" fill="none" stroke="#4a4a4a" stroke-width="2.2" />
<polyline points="1422.1,1148.6 1434.1,1160.6 1450.7,1160.3 1451.6,1181.0 1474.4,1181.0" fill="none" stroke="#4a4a4a" stroke-width="2.2" />
<polyline points="1434.1,1160.6 1427.1,1183.0" fill="none" stroke="#4a4a4a" stroke-width="2.2" />
<polyline points="1384.2,1168.0 1382.7,1180.0" fill="none" stroke="#4a4a4a" stroke-width="2.2" />
<polyline points="1290.8,1114.0 1350.9,1114.0" fill="none" stroke="#4a4a4a" stroke-width="2.2" />
<polyline points="1290.8,1159.7 1332.4,1160.6 1340.7,1177.3" fill="none" stroke="#4a4a4a" stroke-width="2.2" />
<path d="M1351.1 944.2l4.1 4.1m0 -4.1l-4.1 4.1" stroke="#484848" stroke-width="2.1" fill="none"/>
<path d="M1367.3 947.5l4.1 4.1m0 -4.1l-4.1 4.1" stroke="#484848" stroke-width="2.1" fill="none"/>
<path d="M1381.2 938.2l4.1 4.1m0 -4.1l-4.1 4.1" stroke="#484848" stroke-width="2.1" fill="none"/>
<path d="M1396.9 940.5l4.1 4.1m0 -4.1l-4.1 4.1" stroke="#484848" stroke-width="2.1" fill="none"/>
<path d="M1411.7 947.9l4.1 4.1m0 -4.1l-4.1 4.1" stroke="#484848" stroke-width="2.1" fill="none"/>
<path d="M1388.0 950.6l4.1 4.1m0 -4.1l-4.1 4.1" stroke="#484848" stroke-width="2.1" fill="none"/>
<path d="M1331.3 957.1l4.1 4.1m0 -4.1l-4.1 4.1" stroke="#484848" stroke-width="2.1" fill="none"/>
<path d="M1353.5 959.9l4.1 4.1m0 -4.1l-4.1 4.1" stroke="#484848" stroke-width="2.1" fill="none"/>
<path d="M1373.8 959.9l4.1 4.1m0 -4.1l-4.1 4.1" stroke="#484848" stroke-width="2.1" fill="none"/>
<path d="M1429.3 956.7l4.1 4.1m0 -4.1l-4.1 4.1" stroke="#484848" stroke-width="2.1" fill="none"/>
<path d="M1439.4 966.0l4.1 4.1m0 -4.1l-4.1 4.1" stroke="#484848" stroke-width="2.1" fill="none"/>
<path d="M1308.2 977.8l4.1 4.1m0 -4.1l-4.1 4.1" stroke="#484848" stroke-width="2.1" fill="none"/>
<path d="M1337.2 974.7l4.1 4.1m0 -4.1l-4.1 4.1" stroke="#484848" stroke-width="2.1" fill="none"/>
<path d="M1369.6 981.1l4.1 4.1m0 -4.1l-4.1 4.1" stroke="#484848" stroke-width="2.1" fill="none"/>
<path d="M1400.6 974.1l4.1 4.1m0 -4.1l-4.1 4.1" stroke="#484848" stroke-width="2.1" fill="none"/>
<path d="M1429.3 987.6l4.1 4.1m0 -4.1l-4.1 4.1" stroke="#484848" stroke-width="2.1" fill="none"/>
<path d="M1446.8 983.9l4.1 4.1m0 -4.1l-4.1 4.1" stroke="#484848" stroke-width="2.1" fill="none"/>
<path d="M1462.5 991.3l4.1 4.1m0 -4.1l-4.1 4.1" stroke="#484848" stroke-width="2.1" fill="none"/>
<path d="M1347.9 994.6l4.1 4.1m0 -4.1l-4.1 4.1" stroke="#484848" stroke-width="2.1" fill="none"/>
<path d="M1323.3 999.6l4.1 4.1m0 -4.1l-4.1 4.1" stroke="#484848" stroke-width="2.1" fill="none"/>
<path d="M1299.3 1001.1l4.1 4.1m0 -4.1l-4.1 4.1" stroke="#484848" stroke-width="2.1" fill="none"/>
<path d="M1407.1 1000.5l4.1 4.1m0 -4.1l-4.1 4.1" stroke="#484848" stroke-width="2.1" fill="none"/>
<path d="M1445.9 1002.8l4.1 4.1m0 -4.1l-4.1 4.1" stroke="#484848" stroke-width="2.1" fill="none"/>
<path d="M1463.5 1008.9l4.1 4.1m0 -4.1l-4.1 4.1" stroke="#484848" stroke-width="2.1" fill="none"/>
<path d="M1313.4 1015.7l4.1 4.1m0 -4.1l-4.1 4.1" stroke="#484848" stroke-width="2.1" fill="none"/>
<path d="M1338.1 1016.6l4.1 4.1m0 -4.1l-4.1 4.1" stroke="#484848" stroke-width="2.1" fill="none"/>
<path d="M1379.4 1024.9l4.1 4.1m0 -4.1l-4.1 4.1" stroke="#484848" stroke-width="2.1" fill="none"/>
<path d="M1421.9 1023.6l4.1 4.1m0 -4.1l-4.1 4.1" stroke="#484848" stroke-width="2.1" fill="none"/>
<path d="M1441.3 1026.4l4.1 4.1m0 -4.1l-4.1 4.1" stroke="#484848" stroke-width="2.1" fill="none"/>
<path d="M1452.0 1019.9l4.1 4.1m0 -4.1l-4.1 4.1" stroke="#484848" stroke-width="2.1" fill="none"/>
<path d="M1465.7 1025.1l4.1 4.1m0 -4.1l-4.1 4.1" stroke="#484848" stroke-width="2.1" fill="none"/>
<path d="M1452.4 1032.0l4.1 4.1m0 -4.1l-4.1 4.1" stroke="#484848" stroke-width="2.1" fill="none"/>
<path d="M1298.4 1034.7l4.1 4.1m0 -4.1l-4.1 4.1" stroke="#484848" stroke-width="2.1" fill="none"/>
<path d="M1320.2 1034.4l4.1 4.1m0 -4.1l-4.1 4.1" stroke="#484848" stroke-width="2.1" fill="none"/>
<path d="M1341.8 1038.8l4.1 4.1m0 -4.1l-4.1 4.1" stroke="#484848" stroke-width="2.1" fill="none"/>
<path d="M1439.4 1039.9l4.1 4.1m0 -4.1l-4.1 4.1" stroke="#484848" stroke-width="2.1" fill="none"/>
<path d="M1463.1 1038.4l4.1 4.1m0 -4.1l-4.1 4.1" stroke="#484848" stroke-width="2.1" fill="none"/>
<path d="M1359.0 1067.6l4.1 4.1m0 -4.1l-4.1 4.1" stroke="#484848" stroke-width="2.1" fill="none"/>
<path d="M1387.7 1069.9l4.1 4.1m0 -4.1l-4.1 4.1" stroke="#484848" stroke-width="2.1" fill="none"/>
<path d="M1416.3 1063.9l4.1 4.1m0 -4.1l-4.1 4.1" stroke="#484848" stroke-width="2.1" fill="none"/>
<path d="M1442.2 1072.6l4.1 4.1m0 -4.1l-4.1 4.1" stroke="#484848" stroke-width="2.1" fill="none"/>
<path d="M1457.0 1069.9l4.1 4.1m0 -4.1l-4.1 4.1" stroke="#484848" stroke-width="2.1" fill="none"/>
<path d="M1320.2 1086.5l4.1 4.1m0 -4.1l-4.1 4.1" stroke="#484848" stroke-width="2.1" fill="none"/>
<path d="M1367.0 1087.0l4.1 4.1m0 -4.1l-4.1 4.1" stroke="#484848" stroke-width="2.1" fill="none"/>
<path d="M1401.5 1092.6l4.1 4.1m0 -4.1l-4.1 4.1" stroke="#484848" stroke-width="2.1" fill="none"/>
<path d="M1420.0 1082.2l4.1 4.1m0 -4.1l-4.1 4.1" stroke="#484848" stroke-width="2.1" fill="none"/>
<path d="M1433.3 1086.9l4.1 4.1m0 -4.1l-4.1 4.1" stroke="#484848" stroke-width="2.1" fill="none"/>
<path d="M1452.4 1091.5l4.1 4.1m0 -4.1l-4.1 4.1" stroke="#484848" stroke-width="2.1" fill="none"/>
<path d="M1465.3 1089.6l4.1 4.1m0 -4.1l-4.1 4.1" stroke="#484848" stroke-width="2.1" fill="none"/>
<path d="M1426.5 1099.1l4.1 4.1m0 -4.1l-4.1 4.1" stroke="#484848" stroke-width="2.1" fill="none"/>
<path d="M1442.2 1102.6l4.1 4.1m0 -4.1l-4.1 4.1" stroke="#484848" stroke-width="2.1" fill="none"/>
<path d="M1374.7 1117.5l4.1 4.1m0 -4.1l-4.1 4.1" stroke="#484848" stroke-width="2.1" fill="none"/>
<path d="M1403.9 1119.2l4.1 4.1m0 -4.1l-4.1 4.1" stroke="#484848" stroke-width="2.1" fill="none"/>
<path d="M1425.6 1119.2l4.1 4.1m0 -4.1l-4.1 4.1" stroke="#484848" stroke-width="2.1" fill="none"/>
<path d="M1459.8 1116.6l4.1 4.1m0 -4.1l-4.1 4.1" stroke="#484848" stroke-width="2.1" fill="none"/>
<path d="M1328.5 1128.1l4.1 4.1m0 -4.1l-4.1 4.1" stroke="#484848" stroke-width="2.1" fill="none"/>
<path d="M1300.8 1137.7l4.1 4.1m0 -4.1l-4.1 4.1" stroke="#484848" stroke-width="2.1" fill="none"/>
<path d="M1384.9 1143.4l4.1 4.1m0 -4.1l-4.1 4.1" stroke="#484848" stroke-width="2.1" fill="none"/>
<path d="M1410.2 1138.2l4.1 4.1m0 -4.1l-4.1 4.1" stroke="#484848" stroke-width="2.1" fill="none"/>
<path d="M1435.7 1144.2l4.1 4.1m0 -4.1l-4.1 4.1" stroke="#484848" stroke-width="2.1" fill="none"/>
<path d="M1459.8 1143.4l4.1 4.1m0 -4.1l-4.1 4.1" stroke="#484848" stroke-width="2.1" fill="none"/>
<path d="M1359.6 1149.3l4.1 4.1m0 -4.1l-4.1 4.1" stroke="#484848" stroke-width="2.1" fill="none"/>
<path d="M1328.9 1149.7l4.1 4.1m0 -4.1l-4.1 4.1" stroke="#484848" stroke-width="2.1" fill="none"/>
<path d="M1440.4 1167.3l4.1 4.1m0 -4.1l-4.1 4.1" stroke="#484848" stroke-width="2.1" fill="none"/>
<path d="M1460.7 1165.6l4.1 4.1m0 -4.1l-4.1 4.1" stroke="#484848" stroke-width="2.1" fill="none"/>
<path d="M1351.1 1173.0l4.1 4.1m0 -4.1l-4.1 4.1" stroke="#484848" stroke-width="2.1" fill="none"/>
<path d="M1371.4 1177.1l4.1 4.1m0 -4.1l-4.1 4.1" stroke="#484848" stroke-width="2.1" fill="none"/>
<path d="M1403.9 1173.0l4.1 4.1m0 -4.1l-4.1 4.1" stroke="#484848" stroke-width="2.1" fill="none"/>
<polyline points="1342.8,1180.0 1346.5,1185.9 1380.5,1192.6 1382.7,1180.0" fill="none" stroke="#4a4a4a" stroke-width="2.2" />
<polyline points="1376.1,1193.3 1378.3,1236.9" fill="none" stroke="#4a4a4a" stroke-width="2.2" />
<polyline points="1376.1,1193.3 1400.5,1195.5 1408.3,1219.9 1395.3,1236.9 1378.3,1236.9 1362.8,1239.1 1338.4,1242.1 1325.1,1264.3 1326.5,1280.6 1357.6,1292.4" fill="none" stroke="#4a4a4a" stroke-width="2.2" />
<polyline points="1362.8,1239.1 1365.3,1260.6 1360.6,1285.7 1394.9,1285.0 1406.4,1267.2 1395.3,1236.9" fill="none" stroke="#4a4a4a" stroke-width="2.2" />
<polyline points="1335.4,1248.0 1365.3,1260.6" fill="none" stroke="#4a4a4a" stroke-width="2.2" />
<polyline points="1290.6,1248.8 1325.1,1265.0" fill="none" stroke="#4a4a4a" stroke-width="2.2" />
<polyline points="1360.6,1285.7 1357.6,1292.4 1353.2,1313.8 1290.6,1313.8" fill="none" stroke="#4a4a4a" stroke-width="2.2" />
<polyline points="1353.2,1313.8 1356.1,1332.3 1359.1,1362.6 1336.9,1378.2 1290.6,1359.7" fill="none" stroke="#4a4a4a" stroke-width="2.2" />
<polyline points="1356.1,1332.3 1381.6,1325.7 1413.5,1323.7" fill="none" stroke="#4a4a4a" stroke-width="2.2" />
<polyline points="1381.6,1325.7 1381.0,1350.1 1359.1,1362.6" fill="none" stroke="#4a4a4a" stroke-width="2.2" />
<polyline points="1394.9,1285.0 1406.4,1302.0 1413.5,1302.0" fill="none" stroke="#4a4a4a" stroke-width="2.2" />
<polyline points="1404.2,1296.8 1415.3,1290.2 1413.5,1302.0" fill="none" stroke="#4a4a4a" stroke-width="2.2" />
<polyline points="1404.2,1202.9 1422.7,1200.0 1427.1,1183.0" fill="none" stroke="#4a4a4a" stroke-width="2.2" />
<polyline points="1422.7,1200.0 1450.8,1214.8 1472.9,1205.1 1473.7,1194.0" fill="none" stroke="#4a4a4a" stroke-width="2.2" />
<polyline points="1450.8,1214.8 1452.2,1252.5 1404.2,1255.4" fill="none" stroke="#4a4a4a" stroke-width="2.2" />
<polyline points="1438.9,1253.9 1447.8,1272.4" fill="none" stroke="#4a4a4a" stroke-width="2.2" />
<polyline points="1431.5,1301.3 1433.8,1286.5 1455.2,1267.2 1474.4,1288.7 1478.1,1301.3" fill="none" stroke="#4a4a4a" stroke-width="2.2" />
<polyline points="1467.8,1278.3 1489.9,1263.5 1508.4,1270.2" fill="none" stroke="#4a4a4a" stroke-width="2.2" />
<polyline points="1508.4,1253.9 1511.4,1301.3" fill="none" stroke="#4a4a4a" stroke-width="2.2" />
<polyline points="1508.4,1253.9 1535.0,1260.6" fill="none" stroke="#4a4a4a" stroke-width="2.2" />
<polyline points="1472.9,1205.1 1472.9,1211.1 1498.1,1238.4 1520.3,1225.1 1512.9,1216.2 1530.6,1206.6 1526.2,1194.0" fill="none" stroke="#4a4a4a" stroke-width="2.2" />
<polyline points="1498.1,1238.4 1493.6,1242.8 1508.4,1253.9" fill="none" stroke="#4a4a4a" stroke-width="2.2" />
<polyline points="1520.3,1225.1 1535.0,1241.4" fill="none" stroke="#4a4a4a" stroke-width="2.2" />
<polyline points="1528.4,1301.3 1528.4,1291.6 1535.0,1291.6" fill="none" stroke="#4a4a4a" stroke-width="2.2" />
<polyline points="1336.9,1378.2 1337.6,1384.4" fill="none" stroke="#4a4a4a" stroke-width="2.2" />
<polyline points="1336.9,1378.2 1339.9,1384.8 1393.8,1404.0 1413.5,1400.3" fill="none" stroke="#4a4a4a" stroke-width="2.2" />
<polyline points="1350.9,1370.8 1354.6,1389.2" fill="none" stroke="#4a4a4a" stroke-width="2.2" />
<polyline points="1393.8,1404.0 1383.5,1407.0" fill="none" stroke="#4a4a4a" stroke-width="2.2" />
<path d="M1315.6 1186.1l4.1 4.1m0 -4.1l-4.1 4.1" stroke="#484848" stroke-width="2.1" fill="none"/>
<path d="M1350.8 1213.7l4.1 4.1m0 -4.1l-4.1 4.1" stroke="#484848" stroke-width="2.1" fill="none"/>
<path d="M1388.1 1216.1l4.1 4.1m0 -4.1l-4.1 4.1" stroke="#484848" stroke-width="2.1" fill="none"/>
<path d="M1318.6 1232.7l4.1 4.1m0 -4.1l-4.1 4.1" stroke="#484848" stroke-width="2.1" fill="none"/>
<path d="M1426.5 1227.0l4.1 4.1m0 -4.1l-4.1 4.1" stroke="#484848" stroke-width="2.1" fill="none"/>
<path d="M1465.0 1228.2l4.1 4.1m0 -4.1l-4.1 4.1" stroke="#484848" stroke-width="2.1" fill="none"/>
<path d="M1429.2 1197.2l4.1 4.1m0 -4.1l-4.1 4.1" stroke="#484848" stroke-width="2.1" fill="none"/>
<path d="M1444.3 1192.3l4.1 4.1m0 -4.1l-4.1 4.1" stroke="#484848" stroke-width="2.1" fill="none"/>
<path d="M1458.3 1187.6l4.1 4.1m0 -4.1l-4.1 4.1" stroke="#484848" stroke-width="2.1" fill="none"/>
<path d="M1460.5 1200.1l4.1 4.1m0 -4.1l-4.1 4.1" stroke="#484848" stroke-width="2.1" fill="none"/>
<path d="M1446.5 1204.9l4.1 4.1m0 -4.1l-4.1 4.1" stroke="#484848" stroke-width="2.1" fill="none"/>
<path d="M1440.6 1182.4l4.1 4.1m0 -4.1l-4.1 4.1" stroke="#484848" stroke-width="2.1" fill="none"/>
<path d="M1484.2 1203.1l4.1 4.1m0 -4.1l-4.1 4.1" stroke="#484848" stroke-width="2.1" fill="none"/>
<path d="M1512.3 1200.1l4.1 4.1m0 -4.1l-4.1 4.1" stroke="#484848" stroke-width="2.1" fill="none"/>
<path d="M1529.7 1197.2l4.1 4.1m0 -4.1l-4.1 4.1" stroke="#484848" stroke-width="2.1" fill="none"/>
<path d="M1528.3 1210.8l4.1 4.1m0 -4.1l-4.1 4.1" stroke="#484848" stroke-width="2.1" fill="none"/>
<path d="M1501.6 1221.7l4.1 4.1m0 -4.1l-4.1 4.1" stroke="#484848" stroke-width="2.1" fill="none"/>
<path d="M1528.3 1224.5l4.1 4.1m0 -4.1l-4.1 4.1" stroke="#484848" stroke-width="2.1" fill="none"/>
<path d="M1517.9 1234.9l4.1 4.1m0 -4.1l-4.1 4.1" stroke="#484848" stroke-width="2.1" fill="none"/>
<path d="M1504.2 1245.2l4.1 4.1m0 -4.1l-4.1 4.1" stroke="#484848" stroke-width="2.1" fill="none"/>
<path d="M1525.3 1248.2l4.1 4.1m0 -4.1l-4.1 4.1" stroke="#484848" stroke-width="2.1" fill="none"/>
<path d="M1486.4 1249.2l4.1 4.1m0 -4.1l-4.1 4.1" stroke="#484848" stroke-width="2.1" fill="none"/>
<path d="M1458.8 1259.6l4.1 4.1m0 -4.1l-4.1 4.1" stroke="#484848" stroke-width="2.1" fill="none"/>
<path d="M1512.0 1260.3l4.1 4.1m0 -4.1l-4.1 4.1" stroke="#484848" stroke-width="2.1" fill="none"/>
<path d="M1525.6 1263.7l4.1 4.1m0 -4.1l-4.1 4.1" stroke="#484848" stroke-width="2.1" fill="none"/>
<path d="M1350.8 1250.1l4.1 4.1m0 -4.1l-4.1 4.1" stroke="#484848" stroke-width="2.1" fill="none"/>
<path d="M1379.2 1261.1l4.1 4.1m0 -4.1l-4.1 4.1" stroke="#484848" stroke-width="2.1" fill="none"/>
<path d="M1344.5 1271.9l4.1 4.1m0 -4.1l-4.1 4.1" stroke="#484848" stroke-width="2.1" fill="none"/>
<path d="M1306.5 1270.7l4.1 4.1m0 -4.1l-4.1 4.1" stroke="#484848" stroke-width="2.1" fill="none"/>
<path d="M1421.4 1273.6l4.1 4.1m0 -4.1l-4.1 4.1" stroke="#484848" stroke-width="2.1" fill="none"/>
<path d="M1454.9 1276.6l4.1 4.1m0 -4.1l-4.1 4.1" stroke="#484848" stroke-width="2.1" fill="none"/>
<path d="M1512.0 1274.8l4.1 4.1m0 -4.1l-4.1 4.1" stroke="#484848" stroke-width="2.1" fill="none"/>
<path d="M1527.1 1278.5l4.1 4.1m0 -4.1l-4.1 4.1" stroke="#484848" stroke-width="2.1" fill="none"/>
<path d="M1490.4 1282.6l4.1 4.1m0 -4.1l-4.1 4.1" stroke="#484848" stroke-width="2.1" fill="none"/>
<path d="M1442.5 1291.8l4.1 4.1m0 -4.1l-4.1 4.1" stroke="#484848" stroke-width="2.1" fill="none"/>
<path d="M1463.5 1294.0l4.1 4.1m0 -4.1l-4.1 4.1" stroke="#484848" stroke-width="2.1" fill="none"/>
<path d="M1516.7 1292.1l4.1 4.1m0 -4.1l-4.1 4.1" stroke="#484848" stroke-width="2.1" fill="none"/>
<path d="M1530.5 1294.8l4.1 4.1m0 -4.1l-4.1 4.1" stroke="#484848" stroke-width="2.1" fill="none"/>
<path d="M1409.1 1295.8l4.1 4.1m0 -4.1l-4.1 4.1" stroke="#484848" stroke-width="2.1" fill="none"/>
<path d="M1336.0 1293.3l4.1 4.1m0 -4.1l-4.1 4.1" stroke="#484848" stroke-width="2.1" fill="none"/>
<path d="M1305.0 1300.4l4.1 4.1m0 -4.1l-4.1 4.1" stroke="#484848" stroke-width="2.1" fill="none"/>
<path d="M1377.4 1309.1l4.1 4.1m0 -4.1l-4.1 4.1" stroke="#484848" stroke-width="2.1" fill="none"/>
<path d="M1325.2 1341.4l4.1 4.1m0 -4.1l-4.1 4.1" stroke="#484848" stroke-width="2.1" fill="none"/>
<path d="M1394.3 1339.6l4.1 4.1m0 -4.1l-4.1 4.1" stroke="#484848" stroke-width="2.1" fill="none"/>
<path d="M1365.9 1346.2l4.1 4.1m0 -4.1l-4.1 4.1" stroke="#484848" stroke-width="2.1" fill="none"/>
<path d="M1389.3 1362.5l4.1 4.1m0 -4.1l-4.1 4.1" stroke="#484848" stroke-width="2.1" fill="none"/>
<path d="M1302.3 1377.3l4.1 4.1m0 -4.1l-4.1 4.1" stroke="#484848" stroke-width="2.1" fill="none"/>
<path d="M1344.0 1379.1l4.1 4.1m0 -4.1l-4.1 4.1" stroke="#484848" stroke-width="2.1" fill="none"/>
<path d="M1362.6 1379.4l4.1 4.1m0 -4.1l-4.1 4.1" stroke="#484848" stroke-width="2.1" fill="none"/>
<polyline points="1338.4,1384.4 1342.8,1415.5 1352.4,1439.1 1368.7,1452.5 1379.0,1447.3 1386.9,1434.0 1383.5,1407.4 1396.0,1403.7" fill="none" stroke="#4a4a4a" stroke-width="2.2" />
<polyline points="1290.6,1417.0 1342.1,1413.7" fill="none" stroke="#4a4a4a" stroke-width="2.2" />
<polyline points="1352.4,1439.1 1321.4,1443.6 1309.5,1472.4" fill="none" stroke="#4a4a4a" stroke-width="2.2" />
<polyline points="1368.7,1452.5 1339.9,1470.9 1344.3,1491.6 1340.6,1498.3" fill="none" stroke="#4a4a4a" stroke-width="2.2" />
<polyline points="1344.3,1491.6 1328.0,1492.4" fill="none" stroke="#4a4a4a" stroke-width="2.2" />
<polyline points="1379.0,1447.3 1392.3,1488.7 1413.5,1488.7" fill="none" stroke="#4a4a4a" stroke-width="2.2" />
<polyline points="1381.3,1453.2 1400.5,1450.2 1407.9,1468.7 1413.5,1470.9" fill="none" stroke="#4a4a4a" stroke-width="2.2" />
<polyline points="1392.3,1488.7 1381.3,1500.5 1388.7,1518.3 1399.0,1532.3" fill="none" stroke="#4a4a4a" stroke-width="2.2" />
<polyline points="1381.3,1500.5 1375.3,1491.6 1360.6,1500.5 1364.3,1522.0" fill="none" stroke="#4a4a4a" stroke-width="2.2" />
<polyline points="1388.7,1529.4 1393.1,1522.7 1399.0,1532.3" fill="none" stroke="#4a4a4a" stroke-width="2.2" />
<polyline points="1406.4,1461.3 1413.5,1461.3" fill="none" stroke="#4a4a4a" stroke-width="2.2" />
<path d="M1328.9 1397.2l4.1 4.1m0 -4.1l-4.1 4.1" stroke="#484848" stroke-width="2.1" fill="none"/>
<path d="M1303.8 1404.9l4.1 4.1m0 -4.1l-4.1 4.1" stroke="#484848" stroke-width="2.1" fill="none"/>
<path d="M1393.7 1388.3l4.1 4.1m0 -4.1l-4.1 4.1" stroke="#484848" stroke-width="2.1" fill="none"/>
<path d="M1361.8 1418.2l4.1 4.1m0 -4.1l-4.1 4.1" stroke="#484848" stroke-width="2.1" fill="none"/>
<path d="M1326.3 1424.8l4.1 4.1m0 -4.1l-4.1 4.1" stroke="#484848" stroke-width="2.1" fill="none"/>
<path d="M1304.1 1431.2l4.1 4.1m0 -4.1l-4.1 4.1" stroke="#484848" stroke-width="2.1" fill="none"/>
<path d="M1391.3 1412.0l4.1 4.1m0 -4.1l-4.1 4.1" stroke="#484848" stroke-width="2.1" fill="none"/>
<path d="M1404.6 1408.0l4.1 4.1m0 -4.1l-4.1 4.1" stroke="#484848" stroke-width="2.1" fill="none"/>
<path d="M1405.5 1422.0l4.1 4.1m0 -4.1l-4.1 4.1" stroke="#484848" stroke-width="2.1" fill="none"/>
<path d="M1392.5 1426.7l4.1 4.1m0 -4.1l-4.1 4.1" stroke="#484848" stroke-width="2.1" fill="none"/>
<path d="M1385.9 1442.0l4.1 4.1m0 -4.1l-4.1 4.1" stroke="#484848" stroke-width="2.1" fill="none"/>
<path d="M1399.2 1439.6l4.1 4.1m0 -4.1l-4.1 4.1" stroke="#484848" stroke-width="2.1" fill="none"/>
<path d="M1404.6 1450.7l4.1 4.1m0 -4.1l-4.1 4.1" stroke="#484848" stroke-width="2.1" fill="none"/>
<path d="M1327.5 1451.4l4.1 4.1m0 -4.1l-4.1 4.1" stroke="#484848" stroke-width="2.1" fill="none"/>
<path d="M1352.1 1453.8l4.1 4.1m0 -4.1l-4.1 4.1" stroke="#484848" stroke-width="2.1" fill="none"/>
<path d="M1371.5 1458.5l4.1 4.1m0 -4.1l-4.1 4.1" stroke="#484848" stroke-width="2.1" fill="none"/>
<path d="M1391.5 1459.7l4.1 4.1m0 -4.1l-4.1 4.1" stroke="#484848" stroke-width="2.1" fill="none"/>
<path d="M1302.6 1459.3l4.1 4.1m0 -4.1l-4.1 4.1" stroke="#484848" stroke-width="2.1" fill="none"/>
<path d="M1407.6 1463.4l4.1 4.1m0 -4.1l-4.1 4.1" stroke="#484848" stroke-width="2.1" fill="none"/>
<path d="M1350.4 1477.0l4.1 4.1m0 -4.1l-4.1 4.1" stroke="#484848" stroke-width="2.1" fill="none"/>
<path d="M1325.2 1480.0l4.1 4.1m0 -4.1l-4.1 4.1" stroke="#484848" stroke-width="2.1" fill="none"/>
<path d="M1375.5 1482.5l4.1 4.1m0 -4.1l-4.1 4.1" stroke="#484848" stroke-width="2.1" fill="none"/>
<path d="M1399.6 1478.8l4.1 4.1m0 -4.1l-4.1 4.1" stroke="#484848" stroke-width="2.1" fill="none"/>
<path d="M1352.9 1496.7l4.1 4.1m0 -4.1l-4.1 4.1" stroke="#484848" stroke-width="2.1" fill="none"/>
<path d="M1371.8 1501.4l4.1 4.1m0 -4.1l-4.1 4.1" stroke="#484848" stroke-width="2.1" fill="none"/>
<path d="M1385.9 1499.2l4.1 4.1m0 -4.1l-4.1 4.1" stroke="#484848" stroke-width="2.1" fill="none"/>
<path d="M1399.9 1496.2l4.1 4.1m0 -4.1l-4.1 4.1" stroke="#484848" stroke-width="2.1" fill="none"/>
<path d="M1408.5 1509.9l4.1 4.1m0 -4.1l-4.1 4.1" stroke="#484848" stroke-width="2.1" fill="none"/>
<path d="M1394.3 1514.7l4.1 4.1m0 -4.1l-4.1 4.1" stroke="#484848" stroke-width="2.1" fill="none"/>
<path d="M1378.5 1518.4l4.1 4.1m0 -4.1l-4.1 4.1" stroke="#484848" stroke-width="2.1" fill="none"/>
<path d="M1403.2 1524.8l4.1 4.1m0 -4.1l-4.1 4.1" stroke="#484848" stroke-width="2.1" fill="none"/>
<path d="M1391.0 1525.8l4.1 4.1m0 -4.1l-4.1 4.1" stroke="#484848" stroke-width="2.1" fill="none"/>
<path d="M1334.8 1492.6l4.1 4.1m0 -4.1l-4.1 4.1" stroke="#484848" stroke-width="2.1" fill="none"/>
<text class="lb" transform="translate(795.9 808.3) scale(0.93 1)" textLength="261.6" lengthAdjust="spacing">Cerastium biebersteiniiX8</text>
<polyline points="1040.6,801.5 1092.5,801.5 1367.1,944.2" fill="none" stroke="#9612D5" stroke-width="2.6" stroke-linecap="round" stroke-linejoin="round"/>
<text class="lb" transform="translate(851.0 834.3) scale(0.93 1)" textLength="202.4" lengthAdjust="spacing">Lythrum salicariaX1</text>
<polyline points="1040.6,827.5 1092.5,827.5 1363.2,975.8" fill="none" stroke="#9612D5" stroke-width="2.6" stroke-linecap="round" stroke-linejoin="round"/>
<text class="lb" transform="translate(623.3 860.1) scale(0.93 1)" textLength="447.2" lengthAdjust="spacing">Geranium macrorrhizum 'Bevan's Variety'X4</text>
<polyline points="1040.6,853.3 1092.5,853.3 1312.9,974.2" fill="none" stroke="#9612D5" stroke-width="2.6" stroke-linecap="round" stroke-linejoin="round"/>
<text class="lb" transform="translate(726.4 885.1) scale(0.93 1)" textLength="336.3" lengthAdjust="spacing">Rudbeckia fulgida 'Goldsturm'X3</text>
<polyline points="1040.6,878.3 1092.5,878.3 1330.6,997.4" fill="none" stroke="#9612D5" stroke-width="2.6" stroke-linecap="round" stroke-linejoin="round"/>
<text class="lb" transform="translate(853.7 914.7) scale(0.93 1)" textLength="199.5" lengthAdjust="spacing">Malva sylvestrisX3</text>
<polyline points="1040.6,907.9 1092.5,907.9 1309.9,1015.0" fill="none" stroke="#9612D5" stroke-width="2.6" stroke-linecap="round" stroke-linejoin="round"/>
<text class="lb" transform="translate(883.1 943.3) scale(0.93 1)" textLength="167.8" lengthAdjust="spacing">Echinops ritroX1</text>
<polyline points="1040.6,936.5 1092.5,936.5 1337.5,1036.9" fill="none" stroke="#9612D5" stroke-width="2.6" stroke-linecap="round" stroke-linejoin="round"/>
<text class="lb" transform="translate(718.9 976.1) scale(0.93 1)" textLength="344.4" lengthAdjust="spacing">Eupatorium maculatum PhantomX4</text>
<polyline points="1040.6,969.3 1092.5,969.3 1351.7,1067.5" fill="none" stroke="#9612D5" stroke-width="2.6" stroke-linecap="round" stroke-linejoin="round"/>
<text class="lb" transform="translate(697.0 1007.1) scale(0.93 1)" textLength="368.0" lengthAdjust="spacing">Miscanthus sinensis 'Malepartus'X1</text>
<polyline points="1040.6,1000.3 1092.5,1000.3 1301.8,1080.4" fill="none" stroke="#9612D5" stroke-width="2.6" stroke-linecap="round" stroke-linejoin="round"/>
<text class="lb" transform="translate(690.6 1038.2) scale(0.93 1)" textLength="374.8" lengthAdjust="spacing">Leucanthemum x superbum 'Becky'X1</text>
<polyline points="1040.6,1031.4 1092.5,1031.4 1361.6,1106.8" fill="none" stroke="#9612D5" stroke-width="2.6" stroke-linecap="round" stroke-linejoin="round"/>
<text class="lb" transform="translate(841.2 1068.3) scale(0.93 1)" textLength="212.9" lengthAdjust="spacing">Borago officinalisX1</text>
<polyline points="1040.6,1061.5 1092.5,1061.5 1405.5,1126.2" fill="none" stroke="#9612D5" stroke-width="2.6" stroke-linecap="round" stroke-linejoin="round"/>
<text class="lb" transform="translate(656.6 1095.5) scale(0.93 1)" textLength="411.4" lengthAdjust="spacing">Lupinus Russel Hybrid 'La Châtelaine'X3</text>
<polyline points="1040.6,1088.7 1092.5,1088.7 1302.9,1130.8" fill="none" stroke="#9612D5" stroke-width="2.6" stroke-linecap="round" stroke-linejoin="round"/>
<text class="lb" transform="translate(727.3 1122.3) scale(0.93 1)" textLength="335.4" lengthAdjust="spacing">Rudbeckia fulgida 'Goldsturm'X3</text>
<polyline points="1040.6,1115.5 1092.5,1115.5 1351.1,1158.0" fill="none" stroke="#9612D5" stroke-width="2.6" stroke-linecap="round" stroke-linejoin="round"/>
<text class="lb" transform="translate(768.7 1145.5) scale(0.93 1)" textLength="290.9" lengthAdjust="spacing">Hedera helix arborescensX3</text>
<polyline points="1040.6,1138.7 1092.5,1138.7 1303.0,1178.9" fill="none" stroke="#9612D5" stroke-width="2.6" stroke-linecap="round" stroke-linejoin="round"/>
<text class="lb" transform="translate(694.7 1173.5) scale(0.93 1)" textLength="370.4" lengthAdjust="spacing">Hemerocallis Alice in WonderlandX1</text>
<polyline points="1040.6,1166.7 1092.5,1166.7 1381.9,1212.2" fill="none" stroke="#9612D5" stroke-width="2.6" stroke-linecap="round" stroke-linejoin="round"/>
<text class="lb" transform="translate(850.3 1203.5) scale(0.93 1)" textLength="203.1" lengthAdjust="spacing">Gaura lindheimeriX1</text>
<polyline points="1040.6,1196.7 1092.5,1196.7 1412.5,1232.9" fill="none" stroke="#9612D5" stroke-width="2.6" stroke-linecap="round" stroke-linejoin="round"/>
<text class="lb" transform="translate(856.6 1230.7) scale(0.93 1)" textLength="196.3" lengthAdjust="spacing">Centaurea jaceaX1</text>
<polyline points="1040.6,1223.9 1092.5,1223.9 1343.5,1246.1" fill="none" stroke="#9612D5" stroke-width="2.6" stroke-linecap="round" stroke-linejoin="round"/>
<text class="lb" transform="translate(656.6 1258.9) scale(0.93 1)" textLength="411.4" lengthAdjust="spacing">Lupinus Russel Hybrid 'La Châtelaine'X1</text>
<polyline points="1040.6,1252.1 1092.5,1252.1 1374.0,1267.4" fill="none" stroke="#9612D5" stroke-width="2.6" stroke-linecap="round" stroke-linejoin="round"/>
<text class="lb" transform="translate(691.0 1286.6) scale(0.93 1)" textLength="374.4" lengthAdjust="spacing">Leucanthemum x superbum 'Becky'X1</text>
<polyline points="1040.6,1279.8 1178.0,1279.8 1342.5,1281.2" fill="none" stroke="#9612D5" stroke-width="2.6" stroke-linecap="round" stroke-linejoin="round"/>
<text class="lb" transform="translate(658.4 1314.7) scale(0.93 1)" textLength="409.5" lengthAdjust="spacing">Perovskia atriplicifolia 'Little Spire'X1</text>
<polyline points="1040.6,1307.9 1092.5,1307.9 1402.6,1288.7" fill="none" stroke="#9612D5" stroke-width="2.6" stroke-linecap="round" stroke-linejoin="round"/>
<text class="lb" transform="translate(686.7 1340.0) scale(0.93 1)" textLength="379.0" lengthAdjust="spacing">Achillea filipendulina 'Gold Plate'X3</text>
<polyline points="1040.6,1333.2 1092.5,1333.2 1299.1,1309.2" fill="none" stroke="#9612D5" stroke-width="2.6" stroke-linecap="round" stroke-linejoin="round"/>
<text class="lb" transform="translate(647.6 1366.3) scale(0.93 1)" textLength="421.1" lengthAdjust="spacing">Pennisteum alopecuroides 'Japonicum'X1</text>
<polyline points="1040.6,1359.5 1092.5,1359.5 1299.7,1339.4" fill="none" stroke="#9612D5" stroke-width="2.6" stroke-linecap="round" stroke-linejoin="round"/>
<text class="lb" transform="translate(880.2 1396.8) scale(0.93 1)" textLength="171.0" lengthAdjust="spacing">Echinops ritroX1</text>
<polyline points="1040.6,1390.0 1092.5,1390.0 1361.2,1341.4" fill="none" stroke="#9612D5" stroke-width="2.6" stroke-linecap="round" stroke-linejoin="round"/>
<text class="lb" transform="translate(718.9 1427.8) scale(0.93 1)" textLength="344.4" lengthAdjust="spacing">Aster ericoides 'Schneegitter'X3</text>
<polyline points="1040.6,1421.0 1089.5,1421.0 1297.7,1374.5" fill="none" stroke="#9612D5" stroke-width="2.6" stroke-linecap="round" stroke-linejoin="round"/>
<text class="lb" transform="translate(856.6 1457.7) scale(0.93 1)" textLength="196.3" lengthAdjust="spacing">Centaurea jaceaX1</text>
<polyline points="1040.6,1450.9 1089.5,1450.9 1342.5,1383.6" fill="none" stroke="#9612D5" stroke-width="2.6" stroke-linecap="round" stroke-linejoin="round"/>
<text class="lb" transform="translate(669.1 1493.8) scale(0.93 1)" textLength="398.0" lengthAdjust="spacing">Berberis thunbergii 'Helmond Pillar'X1</text>
<polyline points="1040.6,1487.0 1089.5,1487.0 1351.7,1416.5" fill="none" stroke="#9612D5" stroke-width="2.6" stroke-linecap="round" stroke-linejoin="round"/>
<text class="lb" transform="translate(696.9 1524.4) scale(0.93 1)" textLength="368.1" lengthAdjust="spacing">Hemerocallis Alice in WonderlandX3</text>
<polyline points="1040.6,1517.6 1089.5,1517.6 1305.6,1442.7" fill="none" stroke="#9612D5" stroke-width="2.6" stroke-linecap="round" stroke-linejoin="round"/>
<text class="lb" transform="translate(844.6 1553.5) scale(0.93 1)" textLength="209.2" lengthAdjust="spacing">Centranthus ruberX3</text>
<polyline points="1040.6,1546.7 1089.5,1546.7 1321.8,1478.0" fill="none" stroke="#9612D5" stroke-width="2.6" stroke-linecap="round" stroke-linejoin="round"/>
<text class="lb" transform="translate(800.0 1582.9) scale(0.93 1)" textLength="257.2" lengthAdjust="spacing">Erigeron karvinskianusX1</text>
<polyline points="1040.6,1576.1 1089.5,1576.1 1338.5,1494.0" fill="none" stroke="#9612D5" stroke-width="2.6" stroke-linecap="round" stroke-linejoin="round"/>
<text class="lb" transform="translate(779.6 1609.0) scale(0.93 1)" textLength="279.1" lengthAdjust="spacing">Santolina rosmarinifoliaX3</text>
<polyline points="1040.6,1602.2 1089.5,1602.2 1358.2,1502.6" fill="none" stroke="#9612D5" stroke-width="2.6" stroke-linecap="round" stroke-linejoin="round"/>
<text class="lb" transform="translate(715.0 1638.9) scale(0.93 1)" textLength="348.6" lengthAdjust="spacing">Euphorbia x martinii Baby CharmX2</text>
<polyline points="1040.6,1632.1 1089.5,1632.1 1374.0,1511.7" fill="none" stroke="#9612D5" stroke-width="2.6" stroke-linecap="round" stroke-linejoin="round"/>
<text class="lb" transform="translate(795.9 1665.9) scale(0.93 1)" textLength="261.6" lengthAdjust="spacing">Erigeron karvinskianusX1</text>
<polyline points="1040.6,1659.1 1089.5,1659.1 1394.7,1530.2" fill="none" stroke="#9612D5" stroke-width="2.6" stroke-linecap="round" stroke-linejoin="round"/>
<text class="lb" transform="translate(860.5 1694.0) scale(0.93 1)" textLength="192.2" lengthAdjust="spacing">Thymus vulgarisX5</text>
<polyline points="1040.6,1687.2 1089.5,1687.2 1410.5,1530.8" fill="none" stroke="#9612D5" stroke-width="2.6" stroke-linecap="round" stroke-linejoin="round"/>
<text class="lb" transform="translate(1631.3 828.5) scale(0.93 1)" textLength="179.6" lengthAdjust="spacing">Mentha spicataX3</text>
<polyline points="1629.8,821.7 1579.6,821.7 1425.3,953.3" fill="none" stroke="#9612D5" stroke-width="2.6" stroke-linecap="round" stroke-linejoin="round"/>
<text class="lb" transform="translate(1631.3 851.6) scale(0.93 1)" textLength="406.8" lengthAdjust="spacing">Perovskia atriplicifolia 'Little Spire'X1</text>
<polyline points="1629.8,844.8 1579.6,844.8 1417.9,974.5" fill="none" stroke="#9612D5" stroke-width="2.6" stroke-linecap="round" stroke-linejoin="round"/>
<text class="lb" transform="translate(1631.3 873.9) scale(0.93 1)" textLength="227.7" lengthAdjust="spacing">Iberis sempervirensX3</text>
<polyline points="1629.8,867.1 1579.6,867.1 1450.0,975.0" fill="none" stroke="#9612D5" stroke-width="2.6" stroke-linecap="round" stroke-linejoin="round"/>
<text class="lb" transform="translate(1631.3 896.0) scale(0.93 1)" textLength="368.5" lengthAdjust="spacing">Hemerocallis Alice in WonderlandX1</text>
<polyline points="1629.8,889.2 1579.6,889.2 1413.9,1008.3" fill="none" stroke="#9612D5" stroke-width="2.6" stroke-linecap="round" stroke-linejoin="round"/>
<text class="lb" transform="translate(1631.3 917.6) scale(0.93 1)" textLength="201.0" lengthAdjust="spacing">Gaura lindheimeriX1</text>
<polyline points="1629.8,910.8 1579.6,910.8 1401.1,1035.5" fill="none" stroke="#9612D5" stroke-width="2.6" stroke-linecap="round" stroke-linejoin="round"/>
<text class="lb" transform="translate(1631.3 938.1) scale(0.93 1)" textLength="374.4" lengthAdjust="spacing">Achillea filipendulina 'Gold Plate'X1</text>
<polyline points="1629.8,931.3 1579.6,931.3 1433.6,1031.0" fill="none" stroke="#9612D5" stroke-width="2.6" stroke-linecap="round" stroke-linejoin="round"/>
<text class="lb" transform="translate(1631.3 962.8) scale(0.93 1)" textLength="210.8" lengthAdjust="spacing">Aquilegia vulgarisX7</text>
<polyline points="1629.8,956.0 1579.6,956.0 1471.3,1020.9" fill="none" stroke="#9612D5" stroke-width="2.6" stroke-linecap="round" stroke-linejoin="round"/>
<text class="lb" transform="translate(1631.3 989.6) scale(0.93 1)" textLength="368.5" lengthAdjust="spacing">Hemerocallis Alice in WonderlandX1</text>
<polyline points="1629.8,982.8 1579.6,982.8 1429.5,1063.6" fill="none" stroke="#9612D5" stroke-width="2.6" stroke-linecap="round" stroke-linejoin="round"/>
<text class="lb" transform="translate(1631.3 1011.7) scale(0.93 1)" textLength="444.5" lengthAdjust="spacing">Geranium macrorrhizum 'Bevan's Variety'X1</text>
<polyline points="1629.8,1004.9 1579.6,1004.9 1463.7,1063.6" fill="none" stroke="#9612D5" stroke-width="2.6" stroke-linecap="round" stroke-linejoin="round"/>
<text class="lb" transform="translate(1631.3 1036.4) scale(0.93 1)" textLength="285.5" lengthAdjust="spacing">Aster dumosus Early BlueX3</text>
<polyline points="1629.8,1029.6 1579.6,1029.6 1427.6,1092.2" fill="none" stroke="#9612D5" stroke-width="2.6" stroke-linecap="round" stroke-linejoin="round"/>
<text class="lb" transform="translate(1631.3 1058.2) scale(0.93 1)" textLength="194.8" lengthAdjust="spacing">Centaurea jaceaX4</text>
<polyline points="1629.8,1051.4 1579.6,1051.4 1453.5,1090.4" fill="none" stroke="#9612D5" stroke-width="2.6" stroke-linecap="round" stroke-linejoin="round"/>
<text class="lb" transform="translate(1631.3 1077.5) scale(0.93 1)" textLength="444.5" lengthAdjust="spacing">Geranium macrorrhizum 'Bevan's Variety'X1</text>
<polyline points="1629.8,1070.7 1579.6,1070.7 1458.1,1111.3" fill="none" stroke="#9612D5" stroke-width="2.6" stroke-linecap="round" stroke-linejoin="round"/>
<text class="lb" transform="translate(1631.3 1097.8) scale(0.93 1)" textLength="326.5" lengthAdjust="spacing">Carex comans 'frosted curls'X1</text>
<polyline points="1629.8,1091.0 1579.6,1091.0 1440.6,1123.7" fill="none" stroke="#9612D5" stroke-width="2.6" stroke-linecap="round" stroke-linejoin="round"/>
<text class="lb" transform="translate(1630.7 1121.0) scale(0.93 1)" textLength="221.6" lengthAdjust="spacing">Teucrium x lucidrysX1</text>
<polyline points="1629.2,1114.2 1579.6,1114.2 1415.6,1131.4" fill="none" stroke="#9612D5" stroke-width="2.6" stroke-linecap="round" stroke-linejoin="round"/>
<text class="lb" transform="translate(1630.7 1141.2) scale(0.93 1)" textLength="355.6" lengthAdjust="spacing">Achillea clypeolata "Moonshine"X1</text>
<polyline points="1629.2,1134.4 1579.6,1134.4 1386.9,1140.3" fill="none" stroke="#9612D5" stroke-width="2.6" stroke-linecap="round" stroke-linejoin="round"/>
<text class="lb" transform="translate(1630.7 1162.3) scale(0.93 1)" textLength="210.9" lengthAdjust="spacing">Stachys byzantinaX3</text>
<polyline points="1629.2,1155.5 1579.6,1155.5 1465.8,1156.8" fill="none" stroke="#9612D5" stroke-width="2.6" stroke-linecap="round" stroke-linejoin="round"/>
<text class="lb" transform="translate(1630.7 1181.1) scale(0.93 1)" textLength="213.8" lengthAdjust="spacing">Borago officinalisX7</text>
<polyline points="1629.2,1174.3 1579.6,1174.3 1446.3,1175.1" fill="none" stroke="#9612D5" stroke-width="2.6" stroke-linecap="round" stroke-linejoin="round"/>
<text class="lb" transform="translate(1630.7 1201.4) scale(0.93 1)" textLength="363.5" lengthAdjust="spacing">Salvia officinalis 'Purpurascens'X1</text>
<polyline points="1629.2,1194.6 1578.1,1194.6 1417.6,1178.9" fill="none" stroke="#9612D5" stroke-width="2.6" stroke-linecap="round" stroke-linejoin="round"/>
<text class="lb" transform="translate(1630.7 1221.0) scale(0.93 1)" textLength="256.5" lengthAdjust="spacing">Erigeron karvinskianusX1</text>
<polyline points="1629.2,1214.2 1578.1,1214.2 1533.0,1202.5" fill="none" stroke="#9612D5" stroke-width="2.6" stroke-linecap="round" stroke-linejoin="round"/>
<text class="lb" transform="translate(1630.0 1242.0) scale(0.93 1)" textLength="315.6" lengthAdjust="spacing">Santolina chamaecyparissusX3</text>
<polyline points="1628.5,1235.2 1578.9,1235.2 1491.6,1205.9" fill="none" stroke="#9612D5" stroke-width="2.6" stroke-linecap="round" stroke-linejoin="round"/>
<text class="lb" transform="translate(1630.0 1263.1) scale(0.93 1)" textLength="262.0" lengthAdjust="spacing">Cerastium biebersteiniiX3</text>
<polyline points="1628.5,1256.3 1578.9,1256.3 1531.6,1231.0" fill="none" stroke="#9612D5" stroke-width="2.6" stroke-linecap="round" stroke-linejoin="round"/>
<text class="lb" transform="translate(1630.0 1284.1) scale(0.93 1)" textLength="346.8" lengthAdjust="spacing">Euphorbia x martinii Baby CharmX3</text>
<polyline points="1628.5,1277.3 1578.9,1277.3 1529.3,1243.2" fill="none" stroke="#9612D5" stroke-width="2.6" stroke-linecap="round" stroke-linejoin="round"/>
<text class="lb" transform="translate(1630.0 1304.9) scale(0.93 1)" textLength="262.0" lengthAdjust="spacing">Cerastium biebersteiniiX5</text>
<polyline points="1628.5,1298.1 1578.9,1298.1 1531.6,1271.0" fill="none" stroke="#9612D5" stroke-width="2.6" stroke-linecap="round" stroke-linejoin="round"/>
<text class="lb" transform="translate(1630.0 1326.3) scale(0.93 1)" textLength="345.4" lengthAdjust="spacing">Helichrysum italicum serotinumX3</text>
<polyline points="1628.5,1319.5 1578.9,1319.5 1498.3,1260.2" fill="none" stroke="#9612D5" stroke-width="2.6" stroke-linecap="round" stroke-linejoin="round"/>
<text class="lb" transform="translate(1630.0 1347.2) scale(0.93 1)" textLength="255.9" lengthAdjust="spacing">Erigeron karvinskianusX1</text>
<polyline points="1628.5,1340.4 1578.1,1340.4 1530.1,1298.6" fill="none" stroke="#9612D5" stroke-width="2.6" stroke-linecap="round" stroke-linejoin="round"/>
<text class="lb" transform="translate(1579.3 1368.0) scale(0.93 1)" textLength="409.9" lengthAdjust="spacing">Lavandula angustifolia 'Hidcote Pink'X1</text>
<polyline points="1577.8,1361.2 1527.9,1361.2 1495.3,1292.0" fill="none" stroke="#9612D5" stroke-width="2.6" stroke-linecap="round" stroke-linejoin="round"/>
<text class="lb" transform="translate(1580.0 1399.1) scale(0.93 1)" textLength="228.3" lengthAdjust="spacing">Iberis sempervirensX3</text>
<polyline points="1578.5,1392.3 1527.4,1392.3 1455.4,1295.6" fill="none" stroke="#9612D5" stroke-width="2.6" stroke-linecap="round" stroke-linejoin="round"/>
<text class="lb" transform="translate(1577.7 1425.9) scale(0.93 1)" textLength="257.3" lengthAdjust="spacing">Erigeron karvinskianusX1</text>
<polyline points="1576.2,1419.1 1527.4,1419.1 1415.5,1295.6" fill="none" stroke="#9612D5" stroke-width="2.6" stroke-linecap="round" stroke-linejoin="round"/>
<text class="lb" transform="translate(1579.8 1453.4) scale(0.93 1)" textLength="364.0" lengthAdjust="spacing">Salvia officinalis 'Purpurascens'X1</text>
<polyline points="1578.3,1446.6 1527.4,1446.6 1391.1,1317.1" fill="none" stroke="#9612D5" stroke-width="2.6" stroke-linecap="round" stroke-linejoin="round"/>
<text class="lb" transform="translate(1577.7 1481.6) scale(0.93 1)" textLength="447.4" lengthAdjust="spacing">Geranium macrorrhizum 'Bevan's Variety'X4</text>
<polyline points="1576.2,1474.8 1527.4,1474.8 1405.9,1393.3" fill="none" stroke="#9612D5" stroke-width="2.6" stroke-linecap="round" stroke-linejoin="round"/>
<text class="lb" transform="translate(1579.8 1508.2) scale(0.93 1)" textLength="200.6" lengthAdjust="spacing">Alyssum saxatileX7</text>
<polyline points="1578.3,1501.4 1527.4,1501.4 1408.9,1444.6" fill="none" stroke="#9612D5" stroke-width="2.6" stroke-linecap="round" stroke-linejoin="round"/>
<text class="lb" transform="translate(1582.1 1532.5) scale(0.93 1)" textLength="257.0" lengthAdjust="spacing">Erigeron karvinskianusX1</text>
<polyline points="1580.6,1525.7 1527.4,1525.7 1410.4,1467.4" fill="none" stroke="#9612D5" stroke-width="2.6" stroke-linecap="round" stroke-linejoin="round"/>
<text class="lb" transform="translate(1582.1 1556.2) scale(0.93 1)" textLength="347.2" lengthAdjust="spacing">Euphorbia x martinii Baby CharmX2</text>
<polyline points="1580.6,1549.4 1527.4,1549.4 1407.4,1477.7" fill="none" stroke="#9612D5" stroke-width="2.6" stroke-linecap="round" stroke-linejoin="round"/>
<text class="lb" transform="translate(1136.4 552.0) rotate(-52.06) scale(0.93 1)" x="2" y="0" textLength="270.5" lengthAdjust="spacing">Clematis montana 'Alba'X1</text>
<polyline points="1136.4,552.0 1028.3,661.1" fill="none" stroke="#9612D5" stroke-width="2.6" stroke-linecap="round" stroke-linejoin="round"/>
<text class="lb" transform="translate(1239.6 550.5) rotate(-53.73) scale(0.93 1)" x="2" y="0" textLength="348.5" lengthAdjust="spacing">Campsis radicans Indian SummerX1</text>
<polyline points="1239.6,550.5 1222.8,640.9" fill="none" stroke="#9612D5" stroke-width="2.6" stroke-linecap="round" stroke-linejoin="round"/>
<text class="lb" transform="translate(1277.9 549.4) rotate(-54.89) scale(0.93 1)" x="2" y="0" textLength="266.1" lengthAdjust="spacing">Cerastium biebersteiniiX11</text>
<polyline points="1277.9,549.4 1313.6,642.0" fill="none" stroke="#9612D5" stroke-width="2.6" stroke-linecap="round" stroke-linejoin="round"/>
<text class="lb" transform="translate(1326.3 550.5) rotate(-56.79) scale(0.93 1)" x="2" y="0" textLength="316.7" lengthAdjust="spacing">Calamagrostis Karl FoersterX1</text>
<polyline points="1326.3,550.5 1352.8,635.4" fill="none" stroke="#9612D5" stroke-width="2.6" stroke-linecap="round" stroke-linejoin="round"/>
<text class="lb" transform="translate(1369.8 549.4) rotate(-54.83) scale(0.93 1)" x="2" y="0" textLength="443.4" lengthAdjust="spacing">Geranium macrorrhizum 'Bevan's Variety'X3</text>
<polyline points="1369.8,549.4 1388.3,638.7" fill="none" stroke="#9612D5" stroke-width="2.6" stroke-linecap="round" stroke-linejoin="round"/>
<text class="lb" transform="translate(1412.3 548.3) rotate(-55.05) scale(0.93 1)" x="2" y="0" textLength="207.9" lengthAdjust="spacing">Aquilegia vulgarisX3</text>
<polyline points="1412.3,548.3 1429.0,632.2" fill="none" stroke="#9612D5" stroke-width="2.6" stroke-linecap="round" stroke-linejoin="round"/>
<text class="lb" transform="translate(1448.3 547.2) rotate(-53.77) scale(0.93 1)" x="2" y="0" textLength="265.1" lengthAdjust="spacing">Aster ageratoides AshviX1</text>
<polyline points="1448.3,547.2 1458.6,654.6" fill="none" stroke="#9612D5" stroke-width="2.6" stroke-linecap="round" stroke-linejoin="round"/>
<text class="lb" transform="translate(1474.5 550.5) rotate(-53.30) scale(0.93 1)" x="2" y="0" textLength="316.3" lengthAdjust="spacing">Santolina chamaecyparissusX3</text>
<polyline points="1474.5,550.5 1489.3,632.8" fill="none" stroke="#9612D5" stroke-width="2.6" stroke-linecap="round" stroke-linejoin="round"/>
<text class="lb" transform="translate(1509.5 550.5) rotate(-54.39) scale(0.93 1)" x="2" y="0" textLength="312.0" lengthAdjust="spacing">Lonicera japonica Red WorldX1</text>
<polyline points="1509.5,550.5 1510.6,608.9" fill="none" stroke="#9612D5" stroke-width="2.6" stroke-linecap="round" stroke-linejoin="round"/>
<text class="lb" transform="translate(1540.5 549.4) rotate(-54.51) scale(0.93 1)" x="2" y="0" textLength="196.7" lengthAdjust="spacing">Gaura lindheimeriX1</text>
<polyline points="1540.5,549.4 1541.6,632.2" fill="none" stroke="#9612D5" stroke-width="2.6" stroke-linecap="round" stroke-linejoin="round"/>
<text class="lb" transform="translate(1576.8 550.5) rotate(-54.91) scale(0.93 1)" x="2" y="0" textLength="444.0" lengthAdjust="spacing">Geranium macrorrhizum 'Bevan's Variety'X1</text>
<polyline points="1576.8,550.5 1578.6,627.8" fill="none" stroke="#9612D5" stroke-width="2.6" stroke-linecap="round" stroke-linejoin="round"/>
<text class="lb" transform="translate(1608.0 550.5) rotate(-54.00) scale(0.93 1)" x="2" y="0" textLength="203.9" lengthAdjust="spacing">Lychnis coronariaX3</text>
<polyline points="1608.0,550.5 1608.0,620.6" fill="none" stroke="#9612D5" stroke-width="2.6" stroke-linecap="round" stroke-linejoin="round"/>
<text class="lb" transform="translate(1646.0 549.4) rotate(-53.62) scale(0.93 1)" x="2" y="0" textLength="310.0" lengthAdjust="spacing">Santolina chamaecyparissusX3</text>
<polyline points="1646.0,549.4 1643.5,633.2" fill="none" stroke="#9612D5" stroke-width="2.6" stroke-linecap="round" stroke-linejoin="round"/>
<text class="lb" transform="translate(1674.8 548.3) rotate(-54.26) scale(0.93 1)" x="2" y="0" textLength="265.9" lengthAdjust="spacing">Cerastium biebersteiniiX10</text>
<polyline points="1674.8,548.3 1669.6,627.8" fill="none" stroke="#9612D5" stroke-width="2.6" stroke-linecap="round" stroke-linejoin="round"/>
<text class="lb" transform="translate(1709.2 550.5) rotate(-55.54) scale(0.93 1)" x="2" y="0" textLength="352.8" lengthAdjust="spacing">Achillea clypeolata "Moonshine"X1</text>
<polyline points="1709.2,550.5 1687.9,607.1" fill="none" stroke="#9612D5" stroke-width="2.6" stroke-linecap="round" stroke-linejoin="round"/>
<text class="lb" transform="translate(1741.9 548.3) rotate(-53.48) scale(0.93 1)" x="2" y="0" textLength="268.1" lengthAdjust="spacing">Aster ageratoides AshviX3</text>
<polyline points="1741.9,548.3 1719.7,610.4" fill="none" stroke="#9612D5" stroke-width="2.6" stroke-linecap="round" stroke-linejoin="round"/>
<text class="lb" transform="translate(1775.0 549.4) rotate(-54.60) scale(0.93 1)" x="2" y="0" textLength="440.7" lengthAdjust="spacing">Geranium macrorrhizum 'Bevan's Variety'X1</text>
<polyline points="1775.0,549.4 1732.1,626.3" fill="none" stroke="#9612D5" stroke-width="2.6" stroke-linecap="round" stroke-linejoin="round"/>
<text class="lb" transform="translate(1807.2 549.4) rotate(-54.10) scale(0.93 1)" x="2" y="0" textLength="406.2" lengthAdjust="spacing">Lupinus Russel Hybrid 'La Châtelaine'X1</text>
<polyline points="1807.2,549.4 1767.6,598.4" fill="none" stroke="#9612D5" stroke-width="2.6" stroke-linecap="round" stroke-linejoin="round"/>
<text class="lb" transform="translate(1847.5 549.4) rotate(-55.35) scale(0.93 1)" x="2" y="0" textLength="355.5" lengthAdjust="spacing">Achillea clypeolata "Moonshine"X1</text>
<polyline points="1847.5,549.4 1776.3,614.1" fill="none" stroke="#9612D5" stroke-width="2.6" stroke-linecap="round" stroke-linejoin="round"/>
<text class="lb" transform="translate(1881.3 549.4) rotate(-55.76) scale(0.93 1)" x="2" y="0" textLength="317.2" lengthAdjust="spacing">Calamagrostis Karl FoersterX1</text>
<polyline points="1881.3,549.4 1799.6,606.7" fill="none" stroke="#9612D5" stroke-width="2.6" stroke-linecap="round" stroke-linejoin="round"/>
</svg>
</body></html>
